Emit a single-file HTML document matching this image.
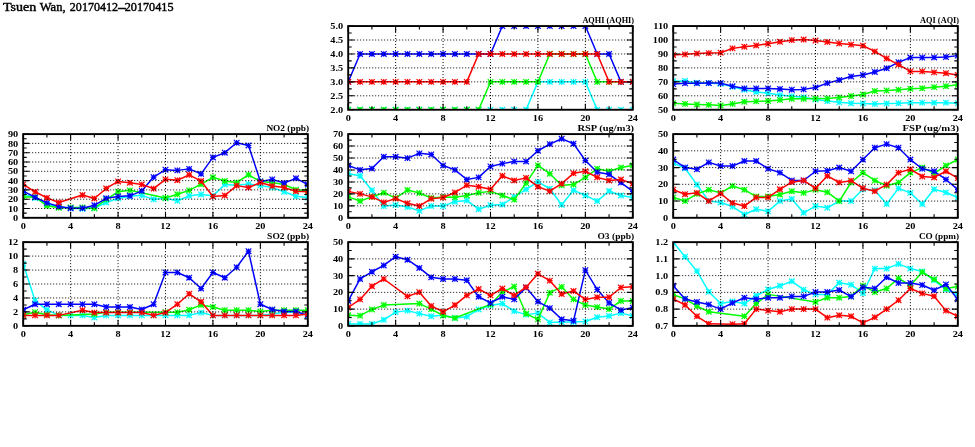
<!DOCTYPE html><html><head><meta charset="utf-8"><title>Tsuen Wan</title><style>html,body{margin:0;padding:0;background:#fff;}svg{display:block;}</style></head><body>
<svg width="975" height="447" viewBox="0 0 975 447">
<rect width="975" height="447" fill="#fff"/>
<defs><clipPath id="c0"><rect x="348.2" y="26.05" width="284.6" height="83.7"/></clipPath><clipPath id="c1"><rect x="673.2" y="26.05" width="284.6" height="83.7"/></clipPath><clipPath id="c2"><rect x="23.2" y="134.1" width="284.6" height="83.7"/></clipPath><clipPath id="c3"><rect x="348.2" y="134.1" width="284.6" height="83.7"/></clipPath><clipPath id="c4"><rect x="673.2" y="134.1" width="284.6" height="83.7"/></clipPath><clipPath id="c5"><rect x="23.2" y="242.15" width="284.6" height="83.7"/></clipPath><clipPath id="c6"><rect x="348.2" y="242.15" width="284.6" height="83.7"/></clipPath><clipPath id="c7"><rect x="673.2" y="242.15" width="284.6" height="83.7"/></clipPath></defs>
<g>
<text y="10.8" font-family="'Liberation Serif', 'DejaVu Serif', serif" font-size="11.6" fill="#000" stroke="#000" stroke-width="0.4"><tspan x="3.0" textLength="33.2" lengthAdjust="spacingAndGlyphs">Tsuen</tspan> <tspan x="39.8" textLength="25.8" lengthAdjust="spacingAndGlyphs">Wan,</tspan> <tspan x="69.85" textLength="48.25" lengthAdjust="spacingAndGlyphs">20170412</tspan><tspan x="117.2" textLength="9.4" lengthAdjust="spacingAndGlyphs">-</tspan><tspan x="124.7" textLength="48.8" lengthAdjust="spacingAndGlyphs">20170415</tspan></text>
<g clip-path="url(#c0)" fill="none" stroke-linejoin="round"><polyline points="348.2,109.75 360.06,109.75 371.92,109.75 383.77,109.75 395.63,109.75 407.49,109.75 419.35,109.75 431.21,109.75 443.07,109.75 454.93,109.75 466.78,109.75 478.64,109.75 490.5,109.75 502.36,109.75 514.22,109.75 526.08,109.75 537.93,81.85 549.79,81.85 561.65,81.85 573.51,81.85 585.37,81.85 597.23,109.75 609.08,109.75 620.94,109.75 632.8,109.75" stroke="#00ffff" stroke-width="1.5"/><path d="M345.4 106.95L351 112.55M345.4 112.55L351 106.95M348.2 106.95V112.55M345.4 109.75H351M357.26 106.95L362.86 112.55M357.26 112.55L362.86 106.95M360.06 106.95V112.55M357.26 109.75H362.86M369.12 106.95L374.72 112.55M369.12 112.55L374.72 106.95M371.92 106.95V112.55M369.12 109.75H374.72M380.97 106.95L386.57 112.55M380.97 112.55L386.57 106.95M383.77 106.95V112.55M380.97 109.75H386.57M392.83 106.95L398.43 112.55M392.83 112.55L398.43 106.95M395.63 106.95V112.55M392.83 109.75H398.43M404.69 106.95L410.29 112.55M404.69 112.55L410.29 106.95M407.49 106.95V112.55M404.69 109.75H410.29M416.55 106.95L422.15 112.55M416.55 112.55L422.15 106.95M419.35 106.95V112.55M416.55 109.75H422.15M428.41 106.95L434.01 112.55M428.41 112.55L434.01 106.95M431.21 106.95V112.55M428.41 109.75H434.01M440.27 106.95L445.87 112.55M440.27 112.55L445.87 106.95M443.07 106.95V112.55M440.27 109.75H445.87M452.12 106.95L457.73 112.55M452.12 112.55L457.73 106.95M454.93 106.95V112.55M452.12 109.75H457.73M463.98 106.95L469.58 112.55M463.98 112.55L469.58 106.95M466.78 106.95V112.55M463.98 109.75H469.58M475.84 106.95L481.44 112.55M475.84 112.55L481.44 106.95M478.64 106.95V112.55M475.84 109.75H481.44M487.7 106.95L493.3 112.55M487.7 112.55L493.3 106.95M490.5 106.95V112.55M487.7 109.75H493.3M499.56 106.95L505.16 112.55M499.56 112.55L505.16 106.95M502.36 106.95V112.55M499.56 109.75H505.16M511.42 106.95L517.02 112.55M511.42 112.55L517.02 106.95M514.22 106.95V112.55M511.42 109.75H517.02M523.28 106.95L528.88 112.55M523.28 112.55L528.88 106.95M526.08 106.95V112.55M523.28 109.75H528.88M535.13 79.05L540.73 84.65M535.13 84.65L540.73 79.05M537.93 79.05V84.65M535.13 81.85H540.73M546.99 79.05L552.59 84.65M546.99 84.65L552.59 79.05M549.79 79.05V84.65M546.99 81.85H552.59M558.85 79.05L564.45 84.65M558.85 84.65L564.45 79.05M561.65 79.05V84.65M558.85 81.85H564.45M570.71 79.05L576.31 84.65M570.71 84.65L576.31 79.05M573.51 79.05V84.65M570.71 81.85H576.31M582.57 79.05L588.17 84.65M582.57 84.65L588.17 79.05M585.37 79.05V84.65M582.57 81.85H588.17M594.43 106.95L600.02 112.55M594.43 112.55L600.02 106.95M597.23 106.95V112.55M594.43 109.75H600.02M606.28 106.95L611.88 112.55M606.28 112.55L611.88 106.95M609.08 106.95V112.55M606.28 109.75H611.88M618.14 106.95L623.74 112.55M618.14 112.55L623.74 106.95M620.94 106.95V112.55M618.14 109.75H623.74M630 106.95L635.6 112.55M630 112.55L635.6 106.95M632.8 106.95V112.55M630 109.75H635.6" stroke="#00ffff" stroke-width="1.2"/><polyline points="348.2,109.75 360.06,109.75 371.92,109.75 383.77,109.75 395.63,109.75 407.49,109.75 419.35,109.75 431.21,109.75 443.07,109.75 454.93,109.75 466.78,109.75 478.64,109.75 490.5,81.85 502.36,81.85 514.22,81.85 526.08,81.85 537.93,81.85 549.79,53.95 561.65,53.95 573.51,53.95 585.37,53.95 597.23,81.85 609.08,81.85 620.94,81.85 632.8,81.85" stroke="#00ff00" stroke-width="1.5"/><path d="M345.4 106.95L351 112.55M345.4 112.55L351 106.95M348.2 106.95V112.55M345.4 109.75H351M357.26 106.95L362.86 112.55M357.26 112.55L362.86 106.95M360.06 106.95V112.55M357.26 109.75H362.86M369.12 106.95L374.72 112.55M369.12 112.55L374.72 106.95M371.92 106.95V112.55M369.12 109.75H374.72M380.97 106.95L386.57 112.55M380.97 112.55L386.57 106.95M383.77 106.95V112.55M380.97 109.75H386.57M392.83 106.95L398.43 112.55M392.83 112.55L398.43 106.95M395.63 106.95V112.55M392.83 109.75H398.43M404.69 106.95L410.29 112.55M404.69 112.55L410.29 106.95M407.49 106.95V112.55M404.69 109.75H410.29M416.55 106.95L422.15 112.55M416.55 112.55L422.15 106.95M419.35 106.95V112.55M416.55 109.75H422.15M428.41 106.95L434.01 112.55M428.41 112.55L434.01 106.95M431.21 106.95V112.55M428.41 109.75H434.01M440.27 106.95L445.87 112.55M440.27 112.55L445.87 106.95M443.07 106.95V112.55M440.27 109.75H445.87M452.12 106.95L457.73 112.55M452.12 112.55L457.73 106.95M454.93 106.95V112.55M452.12 109.75H457.73M463.98 106.95L469.58 112.55M463.98 112.55L469.58 106.95M466.78 106.95V112.55M463.98 109.75H469.58M475.84 106.95L481.44 112.55M475.84 112.55L481.44 106.95M478.64 106.95V112.55M475.84 109.75H481.44M487.7 79.05L493.3 84.65M487.7 84.65L493.3 79.05M490.5 79.05V84.65M487.7 81.85H493.3M499.56 79.05L505.16 84.65M499.56 84.65L505.16 79.05M502.36 79.05V84.65M499.56 81.85H505.16M511.42 79.05L517.02 84.65M511.42 84.65L517.02 79.05M514.22 79.05V84.65M511.42 81.85H517.02M523.28 79.05L528.88 84.65M523.28 84.65L528.88 79.05M526.08 79.05V84.65M523.28 81.85H528.88M535.13 79.05L540.73 84.65M535.13 84.65L540.73 79.05M537.93 79.05V84.65M535.13 81.85H540.73M546.99 51.15L552.59 56.75M546.99 56.75L552.59 51.15M549.79 51.15V56.75M546.99 53.95H552.59M558.85 51.15L564.45 56.75M558.85 56.75L564.45 51.15M561.65 51.15V56.75M558.85 53.95H564.45M570.71 51.15L576.31 56.75M570.71 56.75L576.31 51.15M573.51 51.15V56.75M570.71 53.95H576.31M582.57 51.15L588.17 56.75M582.57 56.75L588.17 51.15M585.37 51.15V56.75M582.57 53.95H588.17M594.43 79.05L600.02 84.65M594.43 84.65L600.02 79.05M597.23 79.05V84.65M594.43 81.85H600.02M606.28 79.05L611.88 84.65M606.28 84.65L611.88 79.05M609.08 79.05V84.65M606.28 81.85H611.88M618.14 79.05L623.74 84.65M618.14 84.65L623.74 79.05M620.94 79.05V84.65M618.14 81.85H623.74M630 79.05L635.6 84.65M630 84.65L635.6 79.05M632.8 79.05V84.65M630 81.85H635.6" stroke="#00ff00" stroke-width="1.2"/><polyline points="348.2,81.85 360.06,53.95 371.92,53.95 383.77,53.95 395.63,53.95 407.49,53.95 419.35,53.95 431.21,53.95 443.07,53.95 454.93,53.95 466.78,53.95 478.64,53.95 490.5,53.95 502.36,26.05 514.22,26.05 526.08,26.05 537.93,26.05 549.79,26.05 561.65,26.05 573.51,26.05 585.37,26.05 597.23,53.95 609.08,53.95 620.94,81.85 632.8,81.85" stroke="#0000ff" stroke-width="1.5"/><path d="M345.4 79.05L351 84.65M345.4 84.65L351 79.05M348.2 79.05V84.65M345.4 81.85H351M357.26 51.15L362.86 56.75M357.26 56.75L362.86 51.15M360.06 51.15V56.75M357.26 53.95H362.86M369.12 51.15L374.72 56.75M369.12 56.75L374.72 51.15M371.92 51.15V56.75M369.12 53.95H374.72M380.97 51.15L386.57 56.75M380.97 56.75L386.57 51.15M383.77 51.15V56.75M380.97 53.95H386.57M392.83 51.15L398.43 56.75M392.83 56.75L398.43 51.15M395.63 51.15V56.75M392.83 53.95H398.43M404.69 51.15L410.29 56.75M404.69 56.75L410.29 51.15M407.49 51.15V56.75M404.69 53.95H410.29M416.55 51.15L422.15 56.75M416.55 56.75L422.15 51.15M419.35 51.15V56.75M416.55 53.95H422.15M428.41 51.15L434.01 56.75M428.41 56.75L434.01 51.15M431.21 51.15V56.75M428.41 53.95H434.01M440.27 51.15L445.87 56.75M440.27 56.75L445.87 51.15M443.07 51.15V56.75M440.27 53.95H445.87M452.12 51.15L457.73 56.75M452.12 56.75L457.73 51.15M454.93 51.15V56.75M452.12 53.95H457.73M463.98 51.15L469.58 56.75M463.98 56.75L469.58 51.15M466.78 51.15V56.75M463.98 53.95H469.58M475.84 51.15L481.44 56.75M475.84 56.75L481.44 51.15M478.64 51.15V56.75M475.84 53.95H481.44M487.7 51.15L493.3 56.75M487.7 56.75L493.3 51.15M490.5 51.15V56.75M487.7 53.95H493.3M499.56 23.25L505.16 28.85M499.56 28.85L505.16 23.25M502.36 23.25V28.85M499.56 26.05H505.16M511.42 23.25L517.02 28.85M511.42 28.85L517.02 23.25M514.22 23.25V28.85M511.42 26.05H517.02M523.28 23.25L528.88 28.85M523.28 28.85L528.88 23.25M526.08 23.25V28.85M523.28 26.05H528.88M535.13 23.25L540.73 28.85M535.13 28.85L540.73 23.25M537.93 23.25V28.85M535.13 26.05H540.73M546.99 23.25L552.59 28.85M546.99 28.85L552.59 23.25M549.79 23.25V28.85M546.99 26.05H552.59M558.85 23.25L564.45 28.85M558.85 28.85L564.45 23.25M561.65 23.25V28.85M558.85 26.05H564.45M570.71 23.25L576.31 28.85M570.71 28.85L576.31 23.25M573.51 23.25V28.85M570.71 26.05H576.31M582.57 23.25L588.17 28.85M582.57 28.85L588.17 23.25M585.37 23.25V28.85M582.57 26.05H588.17M594.43 51.15L600.02 56.75M594.43 56.75L600.02 51.15M597.23 51.15V56.75M594.43 53.95H600.02M606.28 51.15L611.88 56.75M606.28 56.75L611.88 51.15M609.08 51.15V56.75M606.28 53.95H611.88M618.14 79.05L623.74 84.65M618.14 84.65L623.74 79.05M620.94 79.05V84.65M618.14 81.85H623.74M630 79.05L635.6 84.65M630 84.65L635.6 79.05M632.8 79.05V84.65M630 81.85H635.6" stroke="#0000ff" stroke-width="1.2"/><polyline points="348.2,81.85 360.06,81.85 371.92,81.85 383.77,81.85 395.63,81.85 407.49,81.85 419.35,81.85 431.21,81.85 443.07,81.85 454.93,81.85 466.78,81.85 478.64,53.95 490.5,53.95 502.36,53.95 514.22,53.95 526.08,53.95 537.93,53.95 549.79,53.95 561.65,53.95 573.51,53.95 585.37,53.95 597.23,53.95 609.08,81.85 620.94,81.85 632.8,81.85" stroke="#ff0000" stroke-width="1.5"/><path d="M345.4 79.05L351 84.65M345.4 84.65L351 79.05M348.2 79.05V84.65M345.4 81.85H351M357.26 79.05L362.86 84.65M357.26 84.65L362.86 79.05M360.06 79.05V84.65M357.26 81.85H362.86M369.12 79.05L374.72 84.65M369.12 84.65L374.72 79.05M371.92 79.05V84.65M369.12 81.85H374.72M380.97 79.05L386.57 84.65M380.97 84.65L386.57 79.05M383.77 79.05V84.65M380.97 81.85H386.57M392.83 79.05L398.43 84.65M392.83 84.65L398.43 79.05M395.63 79.05V84.65M392.83 81.85H398.43M404.69 79.05L410.29 84.65M404.69 84.65L410.29 79.05M407.49 79.05V84.65M404.69 81.85H410.29M416.55 79.05L422.15 84.65M416.55 84.65L422.15 79.05M419.35 79.05V84.65M416.55 81.85H422.15M428.41 79.05L434.01 84.65M428.41 84.65L434.01 79.05M431.21 79.05V84.65M428.41 81.85H434.01M440.27 79.05L445.87 84.65M440.27 84.65L445.87 79.05M443.07 79.05V84.65M440.27 81.85H445.87M452.12 79.05L457.73 84.65M452.12 84.65L457.73 79.05M454.93 79.05V84.65M452.12 81.85H457.73M463.98 79.05L469.58 84.65M463.98 84.65L469.58 79.05M466.78 79.05V84.65M463.98 81.85H469.58M475.84 51.15L481.44 56.75M475.84 56.75L481.44 51.15M478.64 51.15V56.75M475.84 53.95H481.44M487.7 51.15L493.3 56.75M487.7 56.75L493.3 51.15M490.5 51.15V56.75M487.7 53.95H493.3M499.56 51.15L505.16 56.75M499.56 56.75L505.16 51.15M502.36 51.15V56.75M499.56 53.95H505.16M511.42 51.15L517.02 56.75M511.42 56.75L517.02 51.15M514.22 51.15V56.75M511.42 53.95H517.02M523.28 51.15L528.88 56.75M523.28 56.75L528.88 51.15M526.08 51.15V56.75M523.28 53.95H528.88M535.13 51.15L540.73 56.75M535.13 56.75L540.73 51.15M537.93 51.15V56.75M535.13 53.95H540.73M546.99 51.15L552.59 56.75M546.99 56.75L552.59 51.15M549.79 51.15V56.75M546.99 53.95H552.59M558.85 51.15L564.45 56.75M558.85 56.75L564.45 51.15M561.65 51.15V56.75M558.85 53.95H564.45M570.71 51.15L576.31 56.75M570.71 56.75L576.31 51.15M573.51 51.15V56.75M570.71 53.95H576.31M582.57 51.15L588.17 56.75M582.57 56.75L588.17 51.15M585.37 51.15V56.75M582.57 53.95H588.17M594.43 51.15L600.02 56.75M594.43 56.75L600.02 51.15M597.23 51.15V56.75M594.43 53.95H600.02M606.28 79.05L611.88 84.65M606.28 84.65L611.88 79.05M609.08 79.05V84.65M606.28 81.85H611.88M618.14 79.05L623.74 84.65M618.14 84.65L623.74 79.05M620.94 79.05V84.65M618.14 81.85H623.74M630 79.05L635.6 84.65M630 84.65L635.6 79.05M632.8 79.05V84.65M630 81.85H635.6" stroke="#ff0000" stroke-width="1.2"/></g><path d="M348.2 95.8H632.8M348.2 81.85H632.8M348.2 67.9H632.8M348.2 53.95H632.8M348.2 40H632.8M395.63 26.05V109.75M443.07 26.05V109.75M490.5 26.05V109.75M537.93 26.05V109.75M585.37 26.05V109.75" stroke="#000" stroke-width="1" stroke-dasharray="1 2" fill="none"/><path d="M348.2 109.75h6M632.8 109.75h-6M348.2 102.78h3.5M632.8 102.78h-3.5M348.2 95.8h6M632.8 95.8h-6M348.2 88.83h3.5M632.8 88.83h-3.5M348.2 81.85h6M632.8 81.85h-6M348.2 74.88h3.5M632.8 74.88h-3.5M348.2 67.9h6M632.8 67.9h-6M348.2 60.92h3.5M632.8 60.92h-3.5M348.2 53.95h6M632.8 53.95h-6M348.2 46.97h3.5M632.8 46.97h-3.5M348.2 40h6M632.8 40h-6M348.2 33.03h3.5M632.8 33.03h-3.5M348.2 26.05h6M632.8 26.05h-6M348.2 109.75v-6M348.2 26.05v6M371.92 109.75v-3.5M371.92 26.05v3.5M395.63 109.75v-6M395.63 26.05v6M419.35 109.75v-3.5M419.35 26.05v3.5M443.07 109.75v-6M443.07 26.05v6M466.78 109.75v-3.5M466.78 26.05v3.5M490.5 109.75v-6M490.5 26.05v6M514.22 109.75v-3.5M514.22 26.05v3.5M537.93 109.75v-6M537.93 26.05v6M561.65 109.75v-3.5M561.65 26.05v3.5M585.37 109.75v-6M585.37 26.05v6M609.08 109.75v-3.5M609.08 26.05v3.5M632.8 109.75v-6M632.8 26.05v6" stroke="#000" stroke-width="1.1" fill="none"/><rect x="348.2" y="26.05" width="284.6" height="83.7" fill="none" stroke="#000" stroke-width="1.9"/><g font-family="'Liberation Serif', 'DejaVu Serif', serif" font-weight="bold" font-size="9.2" fill="#000"><text transform="translate(343.2,112.85) scale(1.12,1)" text-anchor="end">2.0</text><text transform="translate(343.2,98.9) scale(1.12,1)" text-anchor="end">2.5</text><text transform="translate(343.2,84.95) scale(1.12,1)" text-anchor="end">3.0</text><text transform="translate(343.2,71) scale(1.12,1)" text-anchor="end">3.5</text><text transform="translate(343.2,57.05) scale(1.12,1)" text-anchor="end">4.0</text><text transform="translate(343.2,43.1) scale(1.12,1)" text-anchor="end">4.5</text><text transform="translate(343.2,29.15) scale(1.12,1)" text-anchor="end">5.0</text><text transform="translate(348.2,120.95) scale(1.12,1)" text-anchor="middle">0</text><text transform="translate(395.63,120.95) scale(1.12,1)" text-anchor="middle">4</text><text transform="translate(443.07,120.95) scale(1.12,1)" text-anchor="middle">8</text><text transform="translate(490.5,120.95) scale(1.12,1)" text-anchor="middle">12</text><text transform="translate(537.93,120.95) scale(1.12,1)" text-anchor="middle">16</text><text transform="translate(585.37,120.95) scale(1.12,1)" text-anchor="middle">20</text><text transform="translate(632.8,120.95) scale(1.12,1)" text-anchor="middle">24</text></g><text x="634.1" y="22.95" text-anchor="end" font-family="'Liberation Serif', 'DejaVu Serif', serif" font-weight="bold" font-size="9.2" textLength="51.7" lengthAdjust="spacingAndGlyphs" fill="#000">AQHI (AQHI)</text>
<g clip-path="url(#c1)" fill="none" stroke-linejoin="round"><polyline points="673.2,81.15 685.06,81.01 696.92,82.69 708.78,82.97 720.63,83.66 732.49,86.73 744.35,89.8 756.21,91.89 768.07,93.29 779.93,95.1 791.78,96.22 803.64,97.19 815.5,99.43 827.36,101.1 839.22,102.36 851.08,103.33 862.93,103.47 874.79,103.89 886.65,103.47 898.51,103.19 910.37,102.64 922.23,102.64 934.08,102.78 945.94,102.64 957.8,103.19" stroke="#00ffff" stroke-width="1.5"/><path d="M670.4 78.35L676 83.95M670.4 83.95L676 78.35M673.2 78.35V83.95M670.4 81.15H676M682.26 78.21L687.86 83.81M682.26 83.81L687.86 78.21M685.06 78.21V83.81M682.26 81.01H687.86M694.12 79.89L699.72 85.49M694.12 85.49L699.72 79.89M696.92 79.89V85.49M694.12 82.69H699.72M705.98 80.17L711.58 85.77M705.98 85.77L711.58 80.17M708.78 80.17V85.77M705.98 82.97H711.58M717.83 80.86L723.43 86.46M717.83 86.46L723.43 80.86M720.63 80.86V86.46M717.83 83.66H723.43M729.69 83.93L735.29 89.53M729.69 89.53L735.29 83.93M732.49 83.93V89.53M729.69 86.73H735.29M741.55 87L747.15 92.6M741.55 92.6L747.15 87M744.35 87V92.6M741.55 89.8H747.15M753.41 89.09L759.01 94.69M753.41 94.69L759.01 89.09M756.21 89.09V94.69M753.41 91.89H759.01M765.27 90.49L770.87 96.09M765.27 96.09L770.87 90.49M768.07 90.49V96.09M765.27 93.29H770.87M777.13 92.3L782.73 97.9M777.13 97.9L782.73 92.3M779.93 92.3V97.9M777.13 95.1H782.73M788.98 93.42L794.58 99.02M788.98 99.02L794.58 93.42M791.78 93.42V99.02M788.98 96.22H794.58M800.84 94.39L806.44 99.99M800.84 99.99L806.44 94.39M803.64 94.39V99.99M800.84 97.19H806.44M812.7 96.63L818.3 102.23M812.7 102.23L818.3 96.63M815.5 96.63V102.23M812.7 99.43H818.3M824.56 98.3L830.16 103.9M824.56 103.9L830.16 98.3M827.36 98.3V103.9M824.56 101.1H830.16M836.42 99.56L842.02 105.16M836.42 105.16L842.02 99.56M839.22 99.56V105.16M836.42 102.36H842.02M848.28 100.53L853.88 106.13M848.28 106.13L853.88 100.53M851.08 100.53V106.13M848.28 103.33H853.88M860.13 100.67L865.73 106.27M860.13 106.27L865.73 100.67M862.93 100.67V106.27M860.13 103.47H865.73M871.99 101.09L877.59 106.69M871.99 106.69L877.59 101.09M874.79 101.09V106.69M871.99 103.89H877.59M883.85 100.67L889.45 106.27M883.85 106.27L889.45 100.67M886.65 100.67V106.27M883.85 103.47H889.45M895.71 100.39L901.31 105.99M895.71 105.99L901.31 100.39M898.51 100.39V105.99M895.71 103.19H901.31M907.57 99.84L913.17 105.44M907.57 105.44L913.17 99.84M910.37 99.84V105.44M907.57 102.64H913.17M919.43 99.84L925.02 105.44M919.43 105.44L925.02 99.84M922.23 99.84V105.44M919.43 102.64H925.02M931.28 99.98L936.88 105.58M931.28 105.58L936.88 99.98M934.08 99.98V105.58M931.28 102.78H936.88M943.14 99.84L948.74 105.44M943.14 105.44L948.74 99.84M945.94 99.84V105.44M943.14 102.64H948.74M955 100.39L960.6 105.99M955 105.99L960.6 100.39M957.8 100.39V105.99M955 103.19H960.6" stroke="#00ffff" stroke-width="1.2"/><polyline points="673.2,103.19 685.06,103.89 696.92,104.45 708.78,104.87 720.63,105.56 732.49,103.89 744.35,101.8 756.21,101.38 768.07,100.96 779.93,99.98 791.78,98.87 803.64,98.87 815.5,98.59 827.36,98.59 839.22,97.47 851.08,96.08 862.93,94.54 874.79,91.06 886.65,90.5 898.51,89.8 910.37,88.83 922.23,88.27 934.08,87.15 945.94,86.17 957.8,84.78" stroke="#00ff00" stroke-width="1.5"/><path d="M670.4 100.39L676 105.99M670.4 105.99L676 100.39M673.2 100.39V105.99M670.4 103.19H676M682.26 101.09L687.86 106.69M682.26 106.69L687.86 101.09M685.06 101.09V106.69M682.26 103.89H687.86M694.12 101.65L699.72 107.25M694.12 107.25L699.72 101.65M696.92 101.65V107.25M694.12 104.45H699.72M705.98 102.07L711.58 107.67M705.98 107.67L711.58 102.07M708.78 102.07V107.67M705.98 104.87H711.58M717.83 102.77L723.43 108.36M717.83 108.36L723.43 102.77M720.63 102.77V108.36M717.83 105.56H723.43M729.69 101.09L735.29 106.69M729.69 106.69L735.29 101.09M732.49 101.09V106.69M729.69 103.89H735.29M741.55 99L747.15 104.6M741.55 104.6L747.15 99M744.35 99V104.6M741.55 101.8H747.15M753.41 98.58L759.01 104.18M753.41 104.18L759.01 98.58M756.21 98.58V104.18M753.41 101.38H759.01M765.27 98.16L770.87 103.76M765.27 103.76L770.87 98.16M768.07 98.16V103.76M765.27 100.96H770.87M777.13 97.19L782.73 102.78M777.13 102.78L782.73 97.19M779.93 97.19V102.78M777.13 99.98H782.73M788.98 96.07L794.58 101.67M788.98 101.67L794.58 96.07M791.78 96.07V101.67M788.98 98.87H794.58M800.84 96.07L806.44 101.67M800.84 101.67L806.44 96.07M803.64 96.07V101.67M800.84 98.87H806.44M812.7 95.79L818.3 101.39M812.7 101.39L818.3 95.79M815.5 95.79V101.39M812.7 98.59H818.3M824.56 95.79L830.16 101.39M824.56 101.39L830.16 95.79M827.36 95.79V101.39M824.56 98.59H830.16M836.42 94.67L842.02 100.27M836.42 100.27L842.02 94.67M839.22 94.67V100.27M836.42 97.47H842.02M848.28 93.28L853.88 98.88M848.28 98.88L853.88 93.28M851.08 93.28V98.88M848.28 96.08H853.88M860.13 91.74L865.73 97.34M860.13 97.34L865.73 91.74M862.93 91.74V97.34M860.13 94.54H865.73M871.99 88.26L877.59 93.86M871.99 93.86L877.59 88.26M874.79 88.26V93.86M871.99 91.06H877.59M883.85 87.7L889.45 93.3M883.85 93.3L889.45 87.7M886.65 87.7V93.3M883.85 90.5H889.45M895.71 87L901.31 92.6M895.71 92.6L901.31 87M898.51 87V92.6M895.71 89.8H901.31M907.57 86.03L913.17 91.62M907.57 91.62L913.17 86.03M910.37 86.03V91.62M907.57 88.83H913.17M919.43 85.47L925.02 91.07M919.43 91.07L925.02 85.47M922.23 85.47V91.07M919.43 88.27H925.02M931.28 84.35L936.88 89.95M931.28 89.95L936.88 84.35M934.08 84.35V89.95M931.28 87.15H936.88M943.14 83.37L948.74 88.97M943.14 88.97L948.74 83.37M945.94 83.37V88.97M943.14 86.17H948.74M955 81.98L960.6 87.58M955 87.58L960.6 81.98M957.8 81.98V87.58M955 84.78H960.6" stroke="#00ff00" stroke-width="1.2"/><polyline points="673.2,84.08 685.06,83.25 696.92,83.25 708.78,83.11 720.63,83.11 732.49,86.31 744.35,88.41 756.21,88.41 768.07,88.41 779.93,88.96 791.78,89.66 803.64,89.38 815.5,87.43 827.36,83.11 839.22,80.04 851.08,76.55 862.93,75.01 874.79,71.95 886.65,68.32 898.51,62.18 910.37,57.58 922.23,57.58 934.08,57.44 945.94,57.02 957.8,55.62" stroke="#0000ff" stroke-width="1.5"/><path d="M670.4 81.28L676 86.88M670.4 86.88L676 81.28M673.2 81.28V86.88M670.4 84.08H676M682.26 80.45L687.86 86.05M682.26 86.05L687.86 80.45M685.06 80.45V86.05M682.26 83.25H687.86M694.12 80.45L699.72 86.05M694.12 86.05L699.72 80.45M696.92 80.45V86.05M694.12 83.25H699.72M705.98 80.31L711.58 85.91M705.98 85.91L711.58 80.31M708.78 80.31V85.91M705.98 83.11H711.58M717.83 80.31L723.43 85.91M717.83 85.91L723.43 80.31M720.63 80.31V85.91M717.83 83.11H723.43M729.69 83.51L735.29 89.11M729.69 89.11L735.29 83.51M732.49 83.51V89.11M729.69 86.31H735.29M741.55 85.61L747.15 91.21M741.55 91.21L747.15 85.61M744.35 85.61V91.21M741.55 88.41H747.15M753.41 85.61L759.01 91.21M753.41 91.21L759.01 85.61M756.21 85.61V91.21M753.41 88.41H759.01M765.27 85.61L770.87 91.21M765.27 91.21L770.87 85.61M768.07 85.61V91.21M765.27 88.41H770.87M777.13 86.16L782.73 91.76M777.13 91.76L782.73 86.16M779.93 86.16V91.76M777.13 88.96H782.73M788.98 86.86L794.58 92.46M788.98 92.46L794.58 86.86M791.78 86.86V92.46M788.98 89.66H794.58M800.84 86.58L806.44 92.18M800.84 92.18L806.44 86.58M803.64 86.58V92.18M800.84 89.38H806.44M812.7 84.63L818.3 90.23M812.7 90.23L818.3 84.63M815.5 84.63V90.23M812.7 87.43H818.3M824.56 80.31L830.16 85.91M824.56 85.91L830.16 80.31M827.36 80.31V85.91M824.56 83.11H830.16M836.42 77.24L842.02 82.84M836.42 82.84L842.02 77.24M839.22 77.24V82.84M836.42 80.04H842.02M848.28 73.75L853.88 79.35M848.28 79.35L853.88 73.75M851.08 73.75V79.35M848.28 76.55H853.88M860.13 72.21L865.73 77.81M860.13 77.81L865.73 72.21M862.93 72.21V77.81M860.13 75.01H865.73M871.99 69.15L877.59 74.75M871.99 74.75L877.59 69.15M874.79 69.15V74.75M871.99 71.95H877.59M883.85 65.52L889.45 71.12M883.85 71.12L889.45 65.52M886.65 65.52V71.12M883.85 68.32H889.45M895.71 59.38L901.31 64.98M895.71 64.98L901.31 59.38M898.51 59.38V64.98M895.71 62.18H901.31M907.57 54.78L913.17 60.38M907.57 60.38L913.17 54.78M910.37 54.78V60.38M907.57 57.58H913.17M919.43 54.78L925.02 60.38M919.43 60.38L925.02 54.78M922.23 54.78V60.38M919.43 57.58H925.02M931.28 54.64L936.88 60.24M931.28 60.24L936.88 54.64M934.08 54.64V60.24M931.28 57.44H936.88M943.14 54.22L948.74 59.82M943.14 59.82L948.74 54.22M945.94 54.22V59.82M943.14 57.02H948.74M955 52.82L960.6 58.42M955 58.42L960.6 52.82M957.8 52.82V58.42M955 55.62H960.6" stroke="#0000ff" stroke-width="1.2"/><polyline points="673.2,54.93 685.06,54.37 696.92,53.53 708.78,53.11 720.63,52.69 732.49,48.37 744.35,46.7 756.21,45.44 768.07,43.77 779.93,41.81 791.78,40.14 803.64,39.58 815.5,40.56 827.36,41.95 839.22,43.49 851.08,44.6 862.93,45.72 874.79,51.44 886.65,58.41 898.51,64.55 910.37,71.39 922.23,71.39 934.08,72.36 945.94,73.2 957.8,75.01" stroke="#ff0000" stroke-width="1.5"/><path d="M670.4 52.13L676 57.73M670.4 57.73L676 52.13M673.2 52.13V57.73M670.4 54.93H676M682.26 51.57L687.86 57.17M682.26 57.17L687.86 51.57M685.06 51.57V57.17M682.26 54.37H687.86M694.12 50.73L699.72 56.33M694.12 56.33L699.72 50.73M696.92 50.73V56.33M694.12 53.53H699.72M705.98 50.31L711.58 55.91M705.98 55.91L711.58 50.31M708.78 50.31V55.91M705.98 53.11H711.58M717.83 49.89L723.43 55.49M717.83 55.49L723.43 49.89M720.63 49.89V55.49M717.83 52.69H723.43M729.69 45.57L735.29 51.17M729.69 51.17L735.29 45.57M732.49 45.57V51.17M729.69 48.37H735.29M741.55 43.9L747.15 49.5M741.55 49.5L747.15 43.9M744.35 43.9V49.5M741.55 46.7H747.15M753.41 42.64L759.01 48.24M753.41 48.24L759.01 42.64M756.21 42.64V48.24M753.41 45.44H759.01M765.27 40.97L770.87 46.57M765.27 46.57L770.87 40.97M768.07 40.97V46.57M765.27 43.77H770.87M777.13 39.01L782.73 44.61M777.13 44.61L782.73 39.01M779.93 39.01V44.61M777.13 41.81H782.73M788.98 37.34L794.58 42.94M788.98 42.94L794.58 37.34M791.78 37.34V42.94M788.98 40.14H794.58M800.84 36.78L806.44 42.38M800.84 42.38L806.44 36.78M803.64 36.78V42.38M800.84 39.58H806.44M812.7 37.76L818.3 43.36M812.7 43.36L818.3 37.76M815.5 37.76V43.36M812.7 40.56H818.3M824.56 39.15L830.16 44.75M824.56 44.75L830.16 39.15M827.36 39.15V44.75M824.56 41.95H830.16M836.42 40.69L842.02 46.29M836.42 46.29L842.02 40.69M839.22 40.69V46.29M836.42 43.49H842.02M848.28 41.8L853.88 47.4M848.28 47.4L853.88 41.8M851.08 41.8V47.4M848.28 44.6H853.88M860.13 42.92L865.73 48.52M860.13 48.52L865.73 42.92M862.93 42.92V48.52M860.13 45.72H865.73M871.99 48.64L877.59 54.24M871.99 54.24L877.59 48.64M874.79 48.64V54.24M871.99 51.44H877.59M883.85 55.61L889.45 61.21M883.85 61.21L889.45 55.61M886.65 55.61V61.21M883.85 58.41H889.45M895.71 61.75L901.31 67.35M895.71 67.35L901.31 61.75M898.51 61.75V67.35M895.71 64.55H901.31M907.57 68.59L913.17 74.19M907.57 74.19L913.17 68.59M910.37 68.59V74.19M907.57 71.39H913.17M919.43 68.59L925.02 74.19M919.43 74.19L925.02 68.59M922.23 68.59V74.19M919.43 71.39H925.02M931.28 69.56L936.88 75.16M931.28 75.16L936.88 69.56M934.08 69.56V75.16M931.28 72.36H936.88M943.14 70.4L948.74 76M943.14 76L948.74 70.4M945.94 70.4V76M943.14 73.2H948.74M955 72.21L960.6 77.81M955 77.81L960.6 72.21M957.8 72.21V77.81M955 75.01H960.6" stroke="#ff0000" stroke-width="1.2"/></g><path d="M673.2 95.8H957.8M673.2 81.85H957.8M673.2 67.9H957.8M673.2 53.95H957.8M673.2 40H957.8M720.63 26.05V109.75M768.07 26.05V109.75M815.5 26.05V109.75M862.93 26.05V109.75M910.37 26.05V109.75" stroke="#000" stroke-width="1" stroke-dasharray="1 2" fill="none"/><path d="M673.2 109.75h6M957.8 109.75h-6M673.2 102.78h3.5M957.8 102.78h-3.5M673.2 95.8h6M957.8 95.8h-6M673.2 88.83h3.5M957.8 88.83h-3.5M673.2 81.85h6M957.8 81.85h-6M673.2 74.88h3.5M957.8 74.88h-3.5M673.2 67.9h6M957.8 67.9h-6M673.2 60.92h3.5M957.8 60.92h-3.5M673.2 53.95h6M957.8 53.95h-6M673.2 46.97h3.5M957.8 46.97h-3.5M673.2 40h6M957.8 40h-6M673.2 33.03h3.5M957.8 33.03h-3.5M673.2 26.05h6M957.8 26.05h-6M673.2 109.75v-6M673.2 26.05v6M696.92 109.75v-3.5M696.92 26.05v3.5M720.63 109.75v-6M720.63 26.05v6M744.35 109.75v-3.5M744.35 26.05v3.5M768.07 109.75v-6M768.07 26.05v6M791.78 109.75v-3.5M791.78 26.05v3.5M815.5 109.75v-6M815.5 26.05v6M839.22 109.75v-3.5M839.22 26.05v3.5M862.93 109.75v-6M862.93 26.05v6M886.65 109.75v-3.5M886.65 26.05v3.5M910.37 109.75v-6M910.37 26.05v6M934.08 109.75v-3.5M934.08 26.05v3.5M957.8 109.75v-6M957.8 26.05v6" stroke="#000" stroke-width="1.1" fill="none"/><rect x="673.2" y="26.05" width="284.6" height="83.7" fill="none" stroke="#000" stroke-width="1.9"/><g font-family="'Liberation Serif', 'DejaVu Serif', serif" font-weight="bold" font-size="9.2" fill="#000"><text transform="translate(668.2,112.85) scale(1.12,1)" text-anchor="end">50</text><text transform="translate(668.2,98.9) scale(1.12,1)" text-anchor="end">60</text><text transform="translate(668.2,84.95) scale(1.12,1)" text-anchor="end">70</text><text transform="translate(668.2,71) scale(1.12,1)" text-anchor="end">80</text><text transform="translate(668.2,57.05) scale(1.12,1)" text-anchor="end">90</text><text transform="translate(668.2,43.1) scale(1.12,1)" text-anchor="end">100</text><text transform="translate(668.2,29.15) scale(1.12,1)" text-anchor="end">110</text><text transform="translate(673.2,120.95) scale(1.12,1)" text-anchor="middle">0</text><text transform="translate(720.63,120.95) scale(1.12,1)" text-anchor="middle">4</text><text transform="translate(768.07,120.95) scale(1.12,1)" text-anchor="middle">8</text><text transform="translate(815.5,120.95) scale(1.12,1)" text-anchor="middle">12</text><text transform="translate(862.93,120.95) scale(1.12,1)" text-anchor="middle">16</text><text transform="translate(910.37,120.95) scale(1.12,1)" text-anchor="middle">20</text><text transform="translate(957.8,120.95) scale(1.12,1)" text-anchor="middle">24</text></g><text x="959.1" y="22.95" text-anchor="end" font-family="'Liberation Serif', 'DejaVu Serif', serif" font-weight="bold" font-size="9.2" textLength="39" lengthAdjust="spacingAndGlyphs" fill="#000">AQI (AQI)</text>
<g clip-path="url(#c2)" fill="none" stroke-linejoin="round"><polyline points="23.2,193.85 35.06,197.92 46.92,204.08 58.78,206.92 70.63,208.24 82.49,208.81 94.35,208.24 106.21,202.47 118.07,198.4 129.93,196.32 141.78,195.37 153.64,199.34 165.5,198.3 177.36,200.76 189.22,195.84 201.07,194.42 212.93,195.84 224.79,184.48 236.65,185.15 248.51,183.92 260.37,185.62 272.23,187.61 284.08,191.77 295.94,196.32 307.8,197.55" stroke="#00ffff" stroke-width="1.5"/><path d="M20.4 191.05L26 196.65M20.4 196.65L26 191.05M23.2 191.05V196.65M20.4 193.85H26M32.26 195.12L37.86 200.72M32.26 200.72L37.86 195.12M35.06 195.12V200.72M32.26 197.92H37.86M44.12 201.28L49.72 206.88M44.12 206.88L49.72 201.28M46.92 201.28V206.88M44.12 204.08H49.72M55.98 204.12L61.58 209.72M55.98 209.72L61.58 204.12M58.78 204.12V209.72M55.98 206.92H61.58M67.83 205.44L73.43 211.04M67.83 211.04L73.43 205.44M70.63 205.44V211.04M67.83 208.24H73.43M79.69 206.01L85.29 211.61M79.69 211.61L85.29 206.01M82.49 206.01V211.61M79.69 208.81H85.29M91.55 205.44L97.15 211.04M91.55 211.04L97.15 205.44M94.35 205.44V211.04M91.55 208.24H97.15M103.41 199.67L109.01 205.27M103.41 205.27L109.01 199.67M106.21 199.67V205.27M103.41 202.47H109.01M115.27 195.6L120.87 201.2M115.27 201.2L120.87 195.6M118.07 195.6V201.2M115.27 198.4H120.87M127.13 193.52L132.73 199.12M127.13 199.12L132.73 193.52M129.93 193.52V199.12M127.13 196.32H132.73M138.98 192.57L144.58 198.17M138.98 198.17L144.58 192.57M141.78 192.57V198.17M138.98 195.37H144.58M150.84 196.54L156.44 202.14M150.84 202.14L156.44 196.54M153.64 196.54V202.14M150.84 199.34H156.44M162.7 195.5L168.3 201.1M162.7 201.1L168.3 195.5M165.5 195.5V201.1M162.7 198.3H168.3M174.56 197.96L180.16 203.56M174.56 203.56L180.16 197.96M177.36 197.96V203.56M174.56 200.76H180.16M186.42 193.04L192.02 198.64M186.42 198.64L192.02 193.04M189.22 193.04V198.64M186.42 195.84H192.02M198.27 191.62L203.88 197.22M198.27 197.22L203.88 191.62M201.07 191.62V197.22M198.27 194.42H203.88M210.13 193.04L215.73 198.64M210.13 198.64L215.73 193.04M212.93 193.04V198.64M210.13 195.84H215.73M221.99 181.68L227.59 187.28M221.99 187.28L227.59 181.68M224.79 181.68V187.28M221.99 184.48H227.59M233.85 182.35L239.45 187.95M233.85 187.95L239.45 182.35M236.65 182.35V187.95M233.85 185.15H239.45M245.71 181.12L251.31 186.72M245.71 186.72L251.31 181.12M248.51 181.12V186.72M245.71 183.92H251.31M257.57 182.82L263.17 188.42M257.57 188.42L263.17 182.82M260.37 182.82V188.42M257.57 185.62H263.17M269.43 184.81L275.03 190.41M269.43 190.41L275.03 184.81M272.23 184.81V190.41M269.43 187.61H275.03M281.28 188.97L286.88 194.57M281.28 194.57L286.88 188.97M284.08 188.97V194.57M281.28 191.77H286.88M293.14 193.52L298.74 199.12M293.14 199.12L298.74 193.52M295.94 193.52V199.12M293.14 196.32H298.74M305 194.75L310.6 200.35M305 200.35L310.6 194.75M307.8 194.75V200.35M305 197.55H310.6" stroke="#00ffff" stroke-width="1.2"/><polyline points="23.2,197.07 35.06,196.98 46.92,205.78 58.78,207.77 70.63,207.39 82.49,207.39 94.35,208.24 106.21,199.34 118.07,191.77 129.93,190.35 165.5,197.92 177.36,194.33 189.22,190.35 201.07,184.2 212.93,177.29 224.79,181.08 236.65,182.5 248.51,174.83 260.37,181.46 272.23,182.5 284.08,184.48 295.94,189.69 307.8,190.73" stroke="#00ff00" stroke-width="1.5"/><path d="M20.4 194.27L26 199.87M20.4 199.87L26 194.27M23.2 194.27V199.87M20.4 197.07H26M32.26 194.18L37.86 199.78M32.26 199.78L37.86 194.18M35.06 194.18V199.78M32.26 196.98H37.86M44.12 202.98L49.72 208.58M44.12 208.58L49.72 202.98M46.92 202.98V208.58M44.12 205.78H49.72M55.98 204.97L61.58 210.57M55.98 210.57L61.58 204.97M58.78 204.97V210.57M55.98 207.77H61.58M67.83 204.59L73.43 210.19M67.83 210.19L73.43 204.59M70.63 204.59V210.19M67.83 207.39H73.43M79.69 204.59L85.29 210.19M79.69 210.19L85.29 204.59M82.49 204.59V210.19M79.69 207.39H85.29M91.55 205.44L97.15 211.04M91.55 211.04L97.15 205.44M94.35 205.44V211.04M91.55 208.24H97.15M103.41 196.54L109.01 202.14M103.41 202.14L109.01 196.54M106.21 196.54V202.14M103.41 199.34H109.01M115.27 188.97L120.87 194.57M115.27 194.57L120.87 188.97M118.07 188.97V194.57M115.27 191.77H120.87M127.13 187.55L132.73 193.15M127.13 193.15L132.73 187.55M129.93 187.55V193.15M127.13 190.35H132.73M162.7 195.12L168.3 200.72M162.7 200.72L168.3 195.12M165.5 195.12V200.72M162.7 197.92H168.3M174.56 191.53L180.16 197.13M174.56 197.13L180.16 191.53M177.36 191.53V197.13M174.56 194.33H180.16M186.42 187.55L192.02 193.15M186.42 193.15L192.02 187.55M189.22 187.55V193.15M186.42 190.35H192.02M198.27 181.4L203.88 187M198.27 187L203.88 181.4M201.07 181.4V187M198.27 184.2H203.88M210.13 174.49L215.73 180.09M210.13 180.09L215.73 174.49M212.93 174.49V180.09M210.13 177.29H215.73M221.99 178.28L227.59 183.88M221.99 183.88L227.59 178.28M224.79 178.28V183.88M221.99 181.08H227.59M233.85 179.7L239.45 185.3M233.85 185.3L239.45 179.7M236.65 179.7V185.3M233.85 182.5H239.45M245.71 172.03L251.31 177.63M245.71 177.63L251.31 172.03M248.51 172.03V177.63M245.71 174.83H251.31M257.57 178.66L263.17 184.26M257.57 184.26L263.17 178.66M260.37 178.66V184.26M257.57 181.46H263.17M269.43 179.7L275.03 185.3M269.43 185.3L275.03 179.7M272.23 179.7V185.3M269.43 182.5H275.03M281.28 181.68L286.88 187.28M281.28 187.28L286.88 181.68M284.08 181.68V187.28M281.28 184.48H286.88M293.14 186.89L298.74 192.49M293.14 192.49L298.74 186.89M295.94 186.89V192.49M293.14 189.69H298.74M305 187.93L310.6 193.53M305 193.53L310.6 187.93M307.8 187.93V193.53M305 190.73H310.6" stroke="#00ff00" stroke-width="1.2"/><polyline points="23.2,191.11 35.06,197.26 46.92,202.85 58.78,206.54 70.63,208.24 82.49,208.24 94.35,205.31 106.21,198.3 118.07,196.5 129.93,195.84 141.78,190.92 153.64,177.1 165.5,169.72 177.36,170.38 189.22,168.87 201.07,173.88 212.93,157.42 224.79,152.68 236.65,142.75 248.51,145.49 260.37,181.46 272.23,179.37 284.08,183.06 295.94,178.33 307.8,184.48" stroke="#0000ff" stroke-width="1.5"/><path d="M20.4 188.31L26 193.91M20.4 193.91L26 188.31M23.2 188.31V193.91M20.4 191.11H26M32.26 194.46L37.86 200.06M32.26 200.06L37.86 194.46M35.06 194.46V200.06M32.26 197.26H37.86M44.12 200.05L49.72 205.65M44.12 205.65L49.72 200.05M46.92 200.05V205.65M44.12 202.85H49.72M55.98 203.74L61.58 209.34M55.98 209.34L61.58 203.74M58.78 203.74V209.34M55.98 206.54H61.58M67.83 205.44L73.43 211.04M67.83 211.04L73.43 205.44M70.63 205.44V211.04M67.83 208.24H73.43M79.69 205.44L85.29 211.04M79.69 211.04L85.29 205.44M82.49 205.44V211.04M79.69 208.24H85.29M91.55 202.51L97.15 208.11M91.55 208.11L97.15 202.51M94.35 202.51V208.11M91.55 205.31H97.15M103.41 195.5L109.01 201.1M103.41 201.1L109.01 195.5M106.21 195.5V201.1M103.41 198.3H109.01M115.27 193.7L120.87 199.3M115.27 199.3L120.87 193.7M118.07 193.7V199.3M115.27 196.5H120.87M127.13 193.04L132.73 198.64M127.13 198.64L132.73 193.04M129.93 193.04V198.64M127.13 195.84H132.73M138.98 188.12L144.58 193.72M138.98 193.72L144.58 188.12M141.78 188.12V193.72M138.98 190.92H144.58M150.84 174.3L156.44 179.9M150.84 179.9L156.44 174.3M153.64 174.3V179.9M150.84 177.1H156.44M162.7 166.92L168.3 172.52M162.7 172.52L168.3 166.92M165.5 166.92V172.52M162.7 169.72H168.3M174.56 167.58L180.16 173.18M174.56 173.18L180.16 167.58M177.36 167.58V173.18M174.56 170.38H180.16M186.42 166.07L192.02 171.67M186.42 171.67L192.02 166.07M189.22 166.07V171.67M186.42 168.87H192.02M198.27 171.08L203.88 176.68M198.27 176.68L203.88 171.08M201.07 171.08V176.68M198.27 173.88H203.88M210.13 154.62L215.73 160.22M210.13 160.22L215.73 154.62M212.93 154.62V160.22M210.13 157.42H215.73M221.99 149.88L227.59 155.48M221.99 155.48L227.59 149.88M224.79 149.88V155.48M221.99 152.68H227.59M233.85 139.95L239.45 145.55M233.85 145.55L239.45 139.95M236.65 139.95V145.55M233.85 142.75H239.45M245.71 142.69L251.31 148.29M245.71 148.29L251.31 142.69M248.51 142.69V148.29M245.71 145.49H251.31M257.57 178.66L263.17 184.26M257.57 184.26L263.17 178.66M260.37 178.66V184.26M257.57 181.46H263.17M269.43 176.57L275.03 182.17M269.43 182.17L275.03 176.57M272.23 176.57V182.17M269.43 179.37H275.03M281.28 180.26L286.88 185.86M281.28 185.86L286.88 180.26M284.08 180.26V185.86M281.28 183.06H286.88M293.14 175.53L298.74 181.13M293.14 181.13L298.74 175.53M295.94 175.53V181.13M293.14 178.33H298.74M305 181.68L310.6 187.28M305 187.28L310.6 181.68M307.8 181.68V187.28M305 184.48H310.6" stroke="#0000ff" stroke-width="1.2"/><polyline points="23.2,184.48 35.06,191.77 46.92,197.92 58.78,202.47 82.49,195.08 94.35,198.49 106.21,188.46 118.07,181.46 129.93,182.69 141.78,184.48 153.64,188.65 165.5,179.37 177.36,180.23 189.22,174.83 201.07,181.08 212.93,196.5 224.79,195.46 236.65,185.62 248.51,187.61 260.37,182.5 272.23,186 284.08,187.61 295.94,191.3 307.8,191.77" stroke="#ff0000" stroke-width="1.5"/><path d="M20.4 181.68L26 187.28M20.4 187.28L26 181.68M23.2 181.68V187.28M20.4 184.48H26M32.26 188.97L37.86 194.57M32.26 194.57L37.86 188.97M35.06 188.97V194.57M32.26 191.77H37.86M44.12 195.12L49.72 200.72M44.12 200.72L49.72 195.12M46.92 195.12V200.72M44.12 197.92H49.72M55.98 199.67L61.58 205.27M55.98 205.27L61.58 199.67M58.78 199.67V205.27M55.98 202.47H61.58M79.69 192.28L85.29 197.88M79.69 197.88L85.29 192.28M82.49 192.28V197.88M79.69 195.08H85.29M91.55 195.69L97.15 201.29M91.55 201.29L97.15 195.69M94.35 195.69V201.29M91.55 198.49H97.15M103.41 185.66L109.01 191.26M103.41 191.26L109.01 185.66M106.21 185.66V191.26M103.41 188.46H109.01M115.27 178.66L120.87 184.26M115.27 184.26L120.87 178.66M118.07 178.66V184.26M115.27 181.46H120.87M127.13 179.89L132.73 185.49M127.13 185.49L132.73 179.89M129.93 179.89V185.49M127.13 182.69H132.73M138.98 181.68L144.58 187.28M138.98 187.28L144.58 181.68M141.78 181.68V187.28M138.98 184.48H144.58M150.84 185.85L156.44 191.45M150.84 191.45L156.44 185.85M153.64 185.85V191.45M150.84 188.65H156.44M162.7 176.57L168.3 182.17M162.7 182.17L168.3 176.57M165.5 176.57V182.17M162.7 179.37H168.3M174.56 177.43L180.16 183.03M174.56 183.03L180.16 177.43M177.36 177.43V183.03M174.56 180.23H180.16M186.42 172.03L192.02 177.63M186.42 177.63L192.02 172.03M189.22 172.03V177.63M186.42 174.83H192.02M198.27 178.28L203.88 183.88M198.27 183.88L203.88 178.28M201.07 178.28V183.88M198.27 181.08H203.88M210.13 193.7L215.73 199.3M210.13 199.3L215.73 193.7M212.93 193.7V199.3M210.13 196.5H215.73M221.99 192.66L227.59 198.26M221.99 198.26L227.59 192.66M224.79 192.66V198.26M221.99 195.46H227.59M233.85 182.82L239.45 188.42M233.85 188.42L239.45 182.82M236.65 182.82V188.42M233.85 185.62H239.45M245.71 184.81L251.31 190.41M245.71 190.41L251.31 184.81M248.51 184.81V190.41M245.71 187.61H251.31M257.57 179.7L263.17 185.3M257.57 185.3L263.17 179.7M260.37 179.7V185.3M257.57 182.5H263.17M269.43 183.2L275.03 188.8M269.43 188.8L275.03 183.2M272.23 183.2V188.8M269.43 186H275.03M281.28 184.81L286.88 190.41M281.28 190.41L286.88 184.81M284.08 184.81V190.41M281.28 187.61H286.88M293.14 188.5L298.74 194.1M293.14 194.1L298.74 188.5M295.94 188.5V194.1M293.14 191.3H298.74M305 188.97L310.6 194.57M305 194.57L310.6 188.97M307.8 188.97V194.57M305 191.77H310.6" stroke="#ff0000" stroke-width="1.2"/></g><path d="M23.2 208.5H307.8M23.2 199.2H307.8M23.2 189.9H307.8M23.2 180.6H307.8M23.2 171.3H307.8M23.2 162H307.8M23.2 152.7H307.8M23.2 143.4H307.8M70.63 134.1V217.8M118.07 134.1V217.8M165.5 134.1V217.8M212.93 134.1V217.8M260.37 134.1V217.8" stroke="#000" stroke-width="1" stroke-dasharray="1 2" fill="none"/><path d="M23.2 217.8h6M307.8 217.8h-6M23.2 213.15h3.5M307.8 213.15h-3.5M23.2 208.5h6M307.8 208.5h-6M23.2 203.85h3.5M307.8 203.85h-3.5M23.2 199.2h6M307.8 199.2h-6M23.2 194.55h3.5M307.8 194.55h-3.5M23.2 189.9h6M307.8 189.9h-6M23.2 185.25h3.5M307.8 185.25h-3.5M23.2 180.6h6M307.8 180.6h-6M23.2 175.95h3.5M307.8 175.95h-3.5M23.2 171.3h6M307.8 171.3h-6M23.2 166.65h3.5M307.8 166.65h-3.5M23.2 162h6M307.8 162h-6M23.2 157.35h3.5M307.8 157.35h-3.5M23.2 152.7h6M307.8 152.7h-6M23.2 148.05h3.5M307.8 148.05h-3.5M23.2 143.4h6M307.8 143.4h-6M23.2 138.75h3.5M307.8 138.75h-3.5M23.2 134.1h6M307.8 134.1h-6M23.2 217.8v-6M23.2 134.1v6M46.92 217.8v-3.5M46.92 134.1v3.5M70.63 217.8v-6M70.63 134.1v6M94.35 217.8v-3.5M94.35 134.1v3.5M118.07 217.8v-6M118.07 134.1v6M141.78 217.8v-3.5M141.78 134.1v3.5M165.5 217.8v-6M165.5 134.1v6M189.22 217.8v-3.5M189.22 134.1v3.5M212.93 217.8v-6M212.93 134.1v6M236.65 217.8v-3.5M236.65 134.1v3.5M260.37 217.8v-6M260.37 134.1v6M284.08 217.8v-3.5M284.08 134.1v3.5M307.8 217.8v-6M307.8 134.1v6" stroke="#000" stroke-width="1.1" fill="none"/><rect x="23.2" y="134.1" width="284.6" height="83.7" fill="none" stroke="#000" stroke-width="1.9"/><g font-family="'Liberation Serif', 'DejaVu Serif', serif" font-weight="bold" font-size="9.2" fill="#000"><text transform="translate(18.2,220.9) scale(1.12,1)" text-anchor="end">0</text><text transform="translate(18.2,211.6) scale(1.12,1)" text-anchor="end">10</text><text transform="translate(18.2,202.3) scale(1.12,1)" text-anchor="end">20</text><text transform="translate(18.2,193) scale(1.12,1)" text-anchor="end">30</text><text transform="translate(18.2,183.7) scale(1.12,1)" text-anchor="end">40</text><text transform="translate(18.2,174.4) scale(1.12,1)" text-anchor="end">50</text><text transform="translate(18.2,165.1) scale(1.12,1)" text-anchor="end">60</text><text transform="translate(18.2,155.8) scale(1.12,1)" text-anchor="end">70</text><text transform="translate(18.2,146.5) scale(1.12,1)" text-anchor="end">80</text><text transform="translate(18.2,137.2) scale(1.12,1)" text-anchor="end">90</text><text transform="translate(23.2,229) scale(1.12,1)" text-anchor="middle">0</text><text transform="translate(70.63,229) scale(1.12,1)" text-anchor="middle">4</text><text transform="translate(118.07,229) scale(1.12,1)" text-anchor="middle">8</text><text transform="translate(165.5,229) scale(1.12,1)" text-anchor="middle">12</text><text transform="translate(212.93,229) scale(1.12,1)" text-anchor="middle">16</text><text transform="translate(260.37,229) scale(1.12,1)" text-anchor="middle">20</text><text transform="translate(307.8,229) scale(1.12,1)" text-anchor="middle">24</text></g><text x="309.1" y="131" text-anchor="end" font-family="'Liberation Serif', 'DejaVu Serif', serif" font-weight="bold" font-size="9.2" textLength="42.7" lengthAdjust="spacingAndGlyphs" fill="#000">NO2 (ppb)</text>
<g clip-path="url(#c3)" fill="none" stroke-linejoin="round"><polyline points="348.2,173.68 360.06,175.83 371.92,190.18 383.77,206.08 395.63,205.01 407.49,207.04 419.35,210.86 431.21,205.96 443.07,206.08 454.93,201.66 466.78,200.46 478.64,209.19 490.5,205.13 502.36,204.53 514.22,196.88 526.08,189.34 537.93,181.93 549.79,188.74 561.65,204.77 573.51,190.18 585.37,195.44 597.23,201.06 609.08,191.02 620.94,195.44 632.8,197.59" stroke="#00ffff" stroke-width="1.5"/><path d="M345.4 170.88L351 176.48M345.4 176.48L351 170.88M348.2 170.88V176.48M345.4 173.68H351M357.26 173.03L362.86 178.63M357.26 178.63L362.86 173.03M360.06 173.03V178.63M357.26 175.83H362.86M369.12 187.38L374.72 192.98M369.12 192.98L374.72 187.38M371.92 187.38V192.98M369.12 190.18H374.72M380.97 203.28L386.57 208.88M380.97 208.88L386.57 203.28M383.77 203.28V208.88M380.97 206.08H386.57M392.83 202.21L398.43 207.81M392.83 207.81L398.43 202.21M395.63 202.21V207.81M392.83 205.01H398.43M404.69 204.24L410.29 209.84M404.69 209.84L410.29 204.24M407.49 204.24V209.84M404.69 207.04H410.29M416.55 208.06L422.15 213.66M416.55 213.66L422.15 208.06M419.35 208.06V213.66M416.55 210.86H422.15M428.41 203.16L434.01 208.76M428.41 208.76L434.01 203.16M431.21 203.16V208.76M428.41 205.96H434.01M440.27 203.28L445.87 208.88M440.27 208.88L445.87 203.28M443.07 203.28V208.88M440.27 206.08H445.87M452.12 198.86L457.73 204.46M452.12 204.46L457.73 198.86M454.93 198.86V204.46M452.12 201.66H457.73M463.98 197.66L469.58 203.26M463.98 203.26L469.58 197.66M466.78 197.66V203.26M463.98 200.46H469.58M475.84 206.39L481.44 211.99M475.84 211.99L481.44 206.39M478.64 206.39V211.99M475.84 209.19H481.44M487.7 202.33L493.3 207.93M487.7 207.93L493.3 202.33M490.5 202.33V207.93M487.7 205.13H493.3M499.56 201.73L505.16 207.33M499.56 207.33L505.16 201.73M502.36 201.73V207.33M499.56 204.53H505.16M511.42 194.07L517.02 199.68M511.42 199.68L517.02 194.07M514.22 194.07V199.68M511.42 196.88H517.02M523.28 186.54L528.88 192.14M523.28 192.14L528.88 186.54M526.08 186.54V192.14M523.28 189.34H528.88M535.13 179.13L540.73 184.73M535.13 184.73L540.73 179.13M537.93 179.13V184.73M535.13 181.93H540.73M546.99 185.94L552.59 191.54M546.99 191.54L552.59 185.94M549.79 185.94V191.54M546.99 188.74H552.59M558.85 201.97L564.45 207.57M558.85 207.57L564.45 201.97M561.65 201.97V207.57M558.85 204.77H564.45M570.71 187.38L576.31 192.98M570.71 192.98L576.31 187.38M573.51 187.38V192.98M570.71 190.18H576.31M582.57 192.64L588.17 198.24M582.57 198.24L588.17 192.64M585.37 192.64V198.24M582.57 195.44H588.17M594.43 198.26L600.02 203.86M594.43 203.86L600.02 198.26M597.23 198.26V203.86M594.43 201.06H600.02M606.28 188.22L611.88 193.82M606.28 193.82L611.88 188.22M609.08 188.22V193.82M606.28 191.02H611.88M618.14 192.64L623.74 198.24M618.14 198.24L623.74 192.64M620.94 192.64V198.24M618.14 195.44H623.74M630 194.79L635.6 200.39M630 200.39L635.6 194.79M632.8 194.79V200.39M630 197.59H635.6" stroke="#00ffff" stroke-width="1.2"/><polyline points="348.2,196.88 360.06,201.06 371.92,196.88 383.77,192.69 395.63,198.07 407.49,190.06 419.35,193.05 431.21,197.95 443.07,197.11 454.93,197.35 466.78,195.44 478.64,192.81 490.5,191.37 502.36,195.44 514.22,199.63 526.08,183.12 537.93,165.43 549.79,173.68 561.65,185.28 573.51,184.56 585.37,177.38 597.23,168.78 609.08,171.29 620.94,167.58 632.8,165.43" stroke="#00ff00" stroke-width="1.5"/><path d="M345.4 194.07L351 199.68M345.4 199.68L351 194.07M348.2 194.07V199.68M345.4 196.88H351M357.26 198.26L362.86 203.86M357.26 203.86L362.86 198.26M360.06 198.26V203.86M357.26 201.06H362.86M369.12 194.07L374.72 199.68M369.12 199.68L374.72 194.07M371.92 194.07V199.68M369.12 196.88H374.72M380.97 189.89L386.57 195.49M380.97 195.49L386.57 189.89M383.77 189.89V195.49M380.97 192.69H386.57M392.83 195.27L398.43 200.87M392.83 200.87L398.43 195.27M395.63 195.27V200.87M392.83 198.07H398.43M404.69 187.26L410.29 192.86M404.69 192.86L410.29 187.26M407.49 187.26V192.86M404.69 190.06H410.29M416.55 190.25L422.15 195.85M416.55 195.85L422.15 190.25M419.35 190.25V195.85M416.55 193.05H422.15M428.41 195.15L434.01 200.75M428.41 200.75L434.01 195.15M431.21 195.15V200.75M428.41 197.95H434.01M440.27 194.31L445.87 199.91M440.27 199.91L445.87 194.31M443.07 194.31V199.91M440.27 197.11H445.87M452.12 194.55L457.73 200.15M452.12 200.15L457.73 194.55M454.93 194.55V200.15M452.12 197.35H457.73M463.98 192.64L469.58 198.24M463.98 198.24L469.58 192.64M466.78 192.64V198.24M463.98 195.44H469.58M475.84 190.01L481.44 195.61M475.84 195.61L481.44 190.01M478.64 190.01V195.61M475.84 192.81H481.44M487.7 188.57L493.3 194.17M487.7 194.17L493.3 188.57M490.5 188.57V194.17M487.7 191.37H493.3M499.56 192.64L505.16 198.24M499.56 198.24L505.16 192.64M502.36 192.64V198.24M499.56 195.44H505.16M511.42 196.83L517.02 202.43M511.42 202.43L517.02 196.83M514.22 196.83V202.43M511.42 199.63H517.02M523.28 180.32L528.88 185.92M523.28 185.92L528.88 180.32M526.08 180.32V185.92M523.28 183.12H528.88M535.13 162.63L540.73 168.23M535.13 168.23L540.73 162.63M537.93 162.63V168.23M535.13 165.43H540.73M546.99 170.88L552.59 176.48M546.99 176.48L552.59 170.88M549.79 170.88V176.48M546.99 173.68H552.59M558.85 182.48L564.45 188.08M558.85 188.08L564.45 182.48M561.65 182.48V188.08M558.85 185.28H564.45M570.71 181.76L576.31 187.36M570.71 187.36L576.31 181.76M573.51 181.76V187.36M570.71 184.56H576.31M582.57 174.58L588.17 180.18M582.57 180.18L588.17 174.58M585.37 174.58V180.18M582.57 177.38H588.17M594.43 165.98L600.02 171.58M594.43 171.58L600.02 165.98M597.23 165.98V171.58M594.43 168.78H600.02M606.28 168.49L611.88 174.09M606.28 174.09L611.88 168.49M609.08 168.49V174.09M606.28 171.29H611.88M618.14 164.78L623.74 170.38M618.14 170.38L623.74 164.78M620.94 164.78V170.38M618.14 167.58H623.74M630 162.63L635.6 168.23M630 168.23L635.6 162.63M632.8 162.63V168.23M630 165.43H635.6" stroke="#00ff00" stroke-width="1.2"/><polyline points="348.2,165.43 360.06,169.85 371.92,168.54 383.77,156.82 395.63,156.82 407.49,158.13 419.35,153.35 431.21,154.43 443.07,165.43 454.93,169.85 466.78,179.54 478.64,177.38 490.5,166.5 502.36,163.63 514.22,161.48 526.08,161.48 537.93,150.72 549.79,144.14 561.65,138.76 573.51,143.67 585.37,160.53 597.23,172.24 609.08,174.28 620.94,182.53 632.8,191.37" stroke="#0000ff" stroke-width="1.5"/><path d="M345.4 162.63L351 168.23M345.4 168.23L351 162.63M348.2 162.63V168.23M345.4 165.43H351M357.26 167.05L362.86 172.65M357.26 172.65L362.86 167.05M360.06 167.05V172.65M357.26 169.85H362.86M369.12 165.74L374.72 171.34M369.12 171.34L374.72 165.74M371.92 165.74V171.34M369.12 168.54H374.72M380.97 154.02L386.57 159.62M380.97 159.62L386.57 154.02M383.77 154.02V159.62M380.97 156.82H386.57M392.83 154.02L398.43 159.62M392.83 159.62L398.43 154.02M395.63 154.02V159.62M392.83 156.82H398.43M404.69 155.33L410.29 160.93M404.69 160.93L410.29 155.33M407.49 155.33V160.93M404.69 158.13H410.29M416.55 150.55L422.15 156.15M416.55 156.15L422.15 150.55M419.35 150.55V156.15M416.55 153.35H422.15M428.41 151.63L434.01 157.23M428.41 157.23L434.01 151.63M431.21 151.63V157.23M428.41 154.43H434.01M440.27 162.63L445.87 168.23M440.27 168.23L445.87 162.63M443.07 162.63V168.23M440.27 165.43H445.87M452.12 167.05L457.73 172.65M452.12 172.65L457.73 167.05M454.93 167.05V172.65M452.12 169.85H457.73M463.98 176.74L469.58 182.34M463.98 182.34L469.58 176.74M466.78 176.74V182.34M463.98 179.54H469.58M475.84 174.58L481.44 180.18M475.84 180.18L481.44 174.58M478.64 174.58V180.18M475.84 177.38H481.44M487.7 163.7L493.3 169.3M487.7 169.3L493.3 163.7M490.5 163.7V169.3M487.7 166.5H493.3M499.56 160.83L505.16 166.43M499.56 166.43L505.16 160.83M502.36 160.83V166.43M499.56 163.63H505.16M511.42 158.68L517.02 164.28M511.42 164.28L517.02 158.68M514.22 158.68V164.28M511.42 161.48H517.02M523.28 158.68L528.88 164.28M523.28 164.28L528.88 158.68M526.08 158.68V164.28M523.28 161.48H528.88M535.13 147.92L540.73 153.52M535.13 153.52L540.73 147.92M537.93 147.92V153.52M535.13 150.72H540.73M546.99 141.34L552.59 146.94M546.99 146.94L552.59 141.34M549.79 141.34V146.94M546.99 144.14H552.59M558.85 135.96L564.45 141.56M558.85 141.56L564.45 135.96M561.65 135.96V141.56M558.85 138.76H564.45M570.71 140.87L576.31 146.47M570.71 146.47L576.31 140.87M573.51 140.87V146.47M570.71 143.67H576.31M582.57 157.73L588.17 163.33M582.57 163.33L588.17 157.73M585.37 157.73V163.33M582.57 160.53H588.17M594.43 169.44L600.02 175.04M594.43 175.04L600.02 169.44M597.23 169.44V175.04M594.43 172.24H600.02M606.28 171.48L611.88 177.08M606.28 177.08L611.88 171.48M609.08 171.48V177.08M606.28 174.28H611.88M618.14 179.73L623.74 185.33M618.14 185.33L623.74 179.73M620.94 179.73V185.33M618.14 182.53H623.74M630 188.57L635.6 194.17M630 194.17L635.6 188.57M632.8 188.57V194.17M630 191.37H635.6" stroke="#0000ff" stroke-width="1.2"/><polyline points="348.2,191.37 360.06,193.89 371.92,196.88 383.77,202.38 395.63,198.55 407.49,203.33 419.35,206.08 431.21,198.67 443.07,197.47 454.93,192.45 466.78,185.28 478.64,186.71 490.5,189.34 502.36,175.83 514.22,180.49 526.08,177.86 537.93,186.71 549.79,191.14 561.65,183.6 573.51,173.32 585.37,171.29 597.23,177.38 609.08,180.49 620.94,179.54 632.8,183.6" stroke="#ff0000" stroke-width="1.5"/><path d="M345.4 188.57L351 194.17M345.4 194.17L351 188.57M348.2 188.57V194.17M345.4 191.37H351M357.26 191.09L362.86 196.69M357.26 196.69L362.86 191.09M360.06 191.09V196.69M357.26 193.89H362.86M369.12 194.07L374.72 199.68M369.12 199.68L374.72 194.07M371.92 194.07V199.68M369.12 196.88H374.72M380.97 199.58L386.57 205.18M380.97 205.18L386.57 199.58M383.77 199.58V205.18M380.97 202.38H386.57M392.83 195.75L398.43 201.35M392.83 201.35L398.43 195.75M395.63 195.75V201.35M392.83 198.55H398.43M404.69 200.53L410.29 206.13M404.69 206.13L410.29 200.53M407.49 200.53V206.13M404.69 203.33H410.29M416.55 203.28L422.15 208.88M416.55 208.88L422.15 203.28M419.35 203.28V208.88M416.55 206.08H422.15M428.41 195.87L434.01 201.47M428.41 201.47L434.01 195.87M431.21 195.87V201.47M428.41 198.67H434.01M440.27 194.67L445.87 200.27M440.27 200.27L445.87 194.67M443.07 194.67V200.27M440.27 197.47H445.87M452.12 189.65L457.73 195.25M452.12 195.25L457.73 189.65M454.93 189.65V195.25M452.12 192.45H457.73M463.98 182.48L469.58 188.08M463.98 188.08L469.58 182.48M466.78 182.48V188.08M463.98 185.28H469.58M475.84 183.91L481.44 189.51M475.84 189.51L481.44 183.91M478.64 183.91V189.51M475.84 186.71H481.44M487.7 186.54L493.3 192.14M487.7 192.14L493.3 186.54M490.5 186.54V192.14M487.7 189.34H493.3M499.56 173.03L505.16 178.63M499.56 178.63L505.16 173.03M502.36 173.03V178.63M499.56 175.83H505.16M511.42 177.69L517.02 183.29M511.42 183.29L517.02 177.69M514.22 177.69V183.29M511.42 180.49H517.02M523.28 175.06L528.88 180.66M523.28 180.66L528.88 175.06M526.08 175.06V180.66M523.28 177.86H528.88M535.13 183.91L540.73 189.51M535.13 189.51L540.73 183.91M537.93 183.91V189.51M535.13 186.71H540.73M546.99 188.34L552.59 193.94M546.99 193.94L552.59 188.34M549.79 188.34V193.94M546.99 191.14H552.59M558.85 180.8L564.45 186.4M558.85 186.4L564.45 180.8M561.65 180.8V186.4M558.85 183.6H564.45M570.71 170.52L576.31 176.12M570.71 176.12L576.31 170.52M573.51 170.52V176.12M570.71 173.32H576.31M582.57 168.49L588.17 174.09M582.57 174.09L588.17 168.49M585.37 168.49V174.09M582.57 171.29H588.17M594.43 174.58L600.02 180.18M594.43 180.18L600.02 174.58M597.23 174.58V180.18M594.43 177.38H600.02M606.28 177.69L611.88 183.29M606.28 183.29L611.88 177.69M609.08 177.69V183.29M606.28 180.49H611.88M618.14 176.74L623.74 182.34M618.14 182.34L623.74 176.74M620.94 176.74V182.34M618.14 179.54H623.74M630 180.8L635.6 186.4M630 186.4L635.6 180.8M632.8 180.8V186.4M630 183.6H635.6" stroke="#ff0000" stroke-width="1.2"/></g><path d="M348.2 205.84H632.8M348.2 193.89H632.8M348.2 181.93H632.8M348.2 169.97H632.8M348.2 158.01H632.8M348.2 146.06H632.8M395.63 134.1V217.8M443.07 134.1V217.8M490.5 134.1V217.8M537.93 134.1V217.8M585.37 134.1V217.8" stroke="#000" stroke-width="1" stroke-dasharray="1 2" fill="none"/><path d="M348.2 217.8h6M632.8 217.8h-6M348.2 211.82h3.5M632.8 211.82h-3.5M348.2 205.84h6M632.8 205.84h-6M348.2 199.86h3.5M632.8 199.86h-3.5M348.2 193.89h6M632.8 193.89h-6M348.2 187.91h3.5M632.8 187.91h-3.5M348.2 181.93h6M632.8 181.93h-6M348.2 175.95h3.5M632.8 175.95h-3.5M348.2 169.97h6M632.8 169.97h-6M348.2 163.99h3.5M632.8 163.99h-3.5M348.2 158.01h6M632.8 158.01h-6M348.2 152.04h3.5M632.8 152.04h-3.5M348.2 146.06h6M632.8 146.06h-6M348.2 140.08h3.5M632.8 140.08h-3.5M348.2 134.1h6M632.8 134.1h-6M348.2 217.8v-6M348.2 134.1v6M371.92 217.8v-3.5M371.92 134.1v3.5M395.63 217.8v-6M395.63 134.1v6M419.35 217.8v-3.5M419.35 134.1v3.5M443.07 217.8v-6M443.07 134.1v6M466.78 217.8v-3.5M466.78 134.1v3.5M490.5 217.8v-6M490.5 134.1v6M514.22 217.8v-3.5M514.22 134.1v3.5M537.93 217.8v-6M537.93 134.1v6M561.65 217.8v-3.5M561.65 134.1v3.5M585.37 217.8v-6M585.37 134.1v6M609.08 217.8v-3.5M609.08 134.1v3.5M632.8 217.8v-6M632.8 134.1v6" stroke="#000" stroke-width="1.1" fill="none"/><rect x="348.2" y="134.1" width="284.6" height="83.7" fill="none" stroke="#000" stroke-width="1.9"/><g font-family="'Liberation Serif', 'DejaVu Serif', serif" font-weight="bold" font-size="9.2" fill="#000"><text transform="translate(343.2,220.9) scale(1.12,1)" text-anchor="end">0</text><text transform="translate(343.2,208.94) scale(1.12,1)" text-anchor="end">10</text><text transform="translate(343.2,196.99) scale(1.12,1)" text-anchor="end">20</text><text transform="translate(343.2,185.03) scale(1.12,1)" text-anchor="end">30</text><text transform="translate(343.2,173.07) scale(1.12,1)" text-anchor="end">40</text><text transform="translate(343.2,161.11) scale(1.12,1)" text-anchor="end">50</text><text transform="translate(343.2,149.16) scale(1.12,1)" text-anchor="end">60</text><text transform="translate(343.2,137.2) scale(1.12,1)" text-anchor="end">70</text><text transform="translate(348.2,229) scale(1.12,1)" text-anchor="middle">0</text><text transform="translate(395.63,229) scale(1.12,1)" text-anchor="middle">4</text><text transform="translate(443.07,229) scale(1.12,1)" text-anchor="middle">8</text><text transform="translate(490.5,229) scale(1.12,1)" text-anchor="middle">12</text><text transform="translate(537.93,229) scale(1.12,1)" text-anchor="middle">16</text><text transform="translate(585.37,229) scale(1.12,1)" text-anchor="middle">20</text><text transform="translate(632.8,229) scale(1.12,1)" text-anchor="middle">24</text></g><text x="634.1" y="131" text-anchor="end" font-family="'Liberation Serif', 'DejaVu Serif', serif" font-weight="bold" font-size="9.2" textLength="56.6" lengthAdjust="spacingAndGlyphs" fill="#000">RSP (ug/m3)</text>
<g clip-path="url(#c4)" fill="none" stroke-linejoin="round"><polyline points="673.2,163.06 685.06,168.25 696.92,184.65 708.78,201.06 720.63,202.57 732.49,206.58 744.35,214.45 756.21,209.26 768.07,211.27 779.93,201.06 791.78,199.05 803.64,212.78 815.5,206.08 827.36,207.76 839.22,201.06 851.08,201.06 862.93,189.34 874.79,190.18 886.65,204.07 898.51,188.34 910.37,192.86 922.23,204.07 934.08,189.34 945.94,192.52 957.8,197.54" stroke="#00ffff" stroke-width="1.5"/><path d="M670.4 160.26L676 165.86M670.4 165.86L676 160.26M673.2 160.26V165.86M670.4 163.06H676M682.26 165.45L687.86 171.05M682.26 171.05L687.86 165.45M685.06 165.45V171.05M682.26 168.25H687.86M694.12 181.85L699.72 187.45M694.12 187.45L699.72 181.85M696.92 181.85V187.45M694.12 184.65H699.72M705.98 198.26L711.58 203.86M705.98 203.86L711.58 198.26M708.78 198.26V203.86M705.98 201.06H711.58M717.83 199.77L723.43 205.37M717.83 205.37L723.43 199.77M720.63 199.77V205.37M717.83 202.57H723.43M729.69 203.78L735.29 209.38M729.69 209.38L735.29 203.78M732.49 203.78V209.38M729.69 206.58H735.29M741.55 211.65L747.15 217.25M741.55 217.25L747.15 211.65M744.35 211.65V217.25M741.55 214.45H747.15M753.41 206.46L759.01 212.06M753.41 212.06L759.01 206.46M756.21 206.46V212.06M753.41 209.26H759.01M765.27 208.47L770.87 214.07M765.27 214.07L770.87 208.47M768.07 208.47V214.07M765.27 211.27H770.87M777.13 198.26L782.73 203.86M777.13 203.86L782.73 198.26M779.93 198.26V203.86M777.13 201.06H782.73M788.98 196.25L794.58 201.85M788.98 201.85L794.58 196.25M791.78 196.25V201.85M788.98 199.05H794.58M800.84 209.98L806.44 215.58M800.84 215.58L806.44 209.98M803.64 209.98V215.58M800.84 212.78H806.44M812.7 203.28L818.3 208.88M812.7 208.88L818.3 203.28M815.5 203.28V208.88M812.7 206.08H818.3M824.56 204.96L830.16 210.56M824.56 210.56L830.16 204.96M827.36 204.96V210.56M824.56 207.76H830.16M836.42 198.26L842.02 203.86M836.42 203.86L842.02 198.26M839.22 198.26V203.86M836.42 201.06H842.02M848.28 198.26L853.88 203.86M848.28 203.86L853.88 198.26M851.08 198.26V203.86M848.28 201.06H853.88M860.13 186.54L865.73 192.14M860.13 192.14L865.73 186.54M862.93 186.54V192.14M860.13 189.34H865.73M871.99 187.38L877.59 192.98M871.99 192.98L877.59 187.38M874.79 187.38V192.98M871.99 190.18H877.59M883.85 201.27L889.45 206.87M883.85 206.87L889.45 201.27M886.65 201.27V206.87M883.85 204.07H889.45M895.71 185.54L901.31 191.14M895.71 191.14L901.31 185.54M898.51 185.54V191.14M895.71 188.34H901.31M907.57 190.06L913.17 195.66M907.57 195.66L913.17 190.06M910.37 190.06V195.66M907.57 192.86H913.17M919.43 201.27L925.02 206.87M919.43 206.87L925.02 201.27M922.23 201.27V206.87M919.43 204.07H925.02M931.28 186.54L936.88 192.14M931.28 192.14L936.88 186.54M934.08 186.54V192.14M931.28 189.34H936.88M943.14 189.72L948.74 195.32M943.14 195.32L948.74 189.72M945.94 189.72V195.32M943.14 192.52H948.74M955 194.74L960.6 200.34M955 200.34L960.6 194.74M957.8 194.74V200.34M955 197.54H960.6" stroke="#00ffff" stroke-width="1.2"/><polyline points="673.2,197.54 685.06,201.06 696.92,193.86 708.78,189.68 720.63,192.86 732.49,185.99 744.35,189.68 756.21,196.54 768.07,196.54 779.93,194.53 791.78,191.18 803.64,192.86 815.5,189.68 827.36,192.19 839.22,201.06 851.08,182.48 862.93,172.6 874.79,180.47 886.65,185.66 898.51,182.48 910.37,172.6 922.23,167.58 934.08,173.27 945.94,165.57 957.8,159.54" stroke="#00ff00" stroke-width="1.5"/><path d="M670.4 194.74L676 200.34M670.4 200.34L676 194.74M673.2 194.74V200.34M670.4 197.54H676M682.26 198.26L687.86 203.86M682.26 203.86L687.86 198.26M685.06 198.26V203.86M682.26 201.06H687.86M694.12 191.06L699.72 196.66M694.12 196.66L699.72 191.06M696.92 191.06V196.66M694.12 193.86H699.72M705.98 186.88L711.58 192.48M705.98 192.48L711.58 186.88M708.78 186.88V192.48M705.98 189.68H711.58M717.83 190.06L723.43 195.66M717.83 195.66L723.43 190.06M720.63 190.06V195.66M717.83 192.86H723.43M729.69 183.19L735.29 188.79M729.69 188.79L735.29 183.19M732.49 183.19V188.79M729.69 185.99H735.29M741.55 186.88L747.15 192.48M741.55 192.48L747.15 186.88M744.35 186.88V192.48M741.55 189.68H747.15M753.41 193.74L759.01 199.34M753.41 199.34L759.01 193.74M756.21 193.74V199.34M753.41 196.54H759.01M765.27 193.74L770.87 199.34M765.27 199.34L770.87 193.74M768.07 193.74V199.34M765.27 196.54H770.87M777.13 191.73L782.73 197.33M777.13 197.33L782.73 191.73M779.93 191.73V197.33M777.13 194.53H782.73M788.98 188.38L794.58 193.98M788.98 193.98L794.58 188.38M791.78 188.38V193.98M788.98 191.18H794.58M800.84 190.06L806.44 195.66M800.84 195.66L806.44 190.06M803.64 190.06V195.66M800.84 192.86H806.44M812.7 186.88L818.3 192.48M812.7 192.48L818.3 186.88M815.5 186.88V192.48M812.7 189.68H818.3M824.56 189.39L830.16 194.99M824.56 194.99L830.16 189.39M827.36 189.39V194.99M824.56 192.19H830.16M836.42 198.26L842.02 203.86M836.42 203.86L842.02 198.26M839.22 198.26V203.86M836.42 201.06H842.02M848.28 179.68L853.88 185.28M848.28 185.28L853.88 179.68M851.08 179.68V185.28M848.28 182.48H853.88M860.13 169.8L865.73 175.4M860.13 175.4L865.73 169.8M862.93 169.8V175.4M860.13 172.6H865.73M871.99 177.67L877.59 183.27M871.99 183.27L877.59 177.67M874.79 177.67V183.27M871.99 180.47H877.59M883.85 182.86L889.45 188.46M883.85 188.46L889.45 182.86M886.65 182.86V188.46M883.85 185.66H889.45M895.71 179.68L901.31 185.28M895.71 185.28L901.31 179.68M898.51 179.68V185.28M895.71 182.48H901.31M907.57 169.8L913.17 175.4M907.57 175.4L913.17 169.8M910.37 169.8V175.4M907.57 172.6H913.17M919.43 164.78L925.02 170.38M919.43 170.38L925.02 164.78M922.23 164.78V170.38M919.43 167.58H925.02M931.28 170.47L936.88 176.07M931.28 176.07L936.88 170.47M934.08 170.47V176.07M931.28 173.27H936.88M943.14 162.77L948.74 168.37M943.14 168.37L948.74 162.77M945.94 162.77V168.37M943.14 165.57H948.74M955 156.74L960.6 162.34M955 162.34L960.6 156.74M957.8 156.74V162.34M955 159.54H960.6" stroke="#00ff00" stroke-width="1.2"/><polyline points="673.2,159.54 685.06,167.58 696.92,169.25 708.78,162.39 720.63,166.07 732.49,166.07 744.35,161.05 756.21,161.05 768.07,168.75 779.93,172.6 791.78,180.47 803.64,180.47 815.5,171.26 827.36,170.76 839.22,167.58 851.08,171.26 862.93,159.54 874.79,147.66 886.65,144.14 898.51,147.66 910.37,159.54 922.23,168.75 934.08,171.26 945.94,179.47 957.8,189.68" stroke="#0000ff" stroke-width="1.5"/><path d="M670.4 156.74L676 162.34M670.4 162.34L676 156.74M673.2 156.74V162.34M670.4 159.54H676M682.26 164.78L687.86 170.38M682.26 170.38L687.86 164.78M685.06 164.78V170.38M682.26 167.58H687.86M694.12 166.45L699.72 172.05M694.12 172.05L699.72 166.45M696.92 166.45V172.05M694.12 169.25H699.72M705.98 159.59L711.58 165.19M705.98 165.19L711.58 159.59M708.78 159.59V165.19M705.98 162.39H711.58M717.83 163.27L723.43 168.87M717.83 168.87L723.43 163.27M720.63 163.27V168.87M717.83 166.07H723.43M729.69 163.27L735.29 168.87M729.69 168.87L735.29 163.27M732.49 163.27V168.87M729.69 166.07H735.29M741.55 158.25L747.15 163.85M741.55 163.85L747.15 158.25M744.35 158.25V163.85M741.55 161.05H747.15M753.41 158.25L759.01 163.85M753.41 163.85L759.01 158.25M756.21 158.25V163.85M753.41 161.05H759.01M765.27 165.95L770.87 171.55M765.27 171.55L770.87 165.95M768.07 165.95V171.55M765.27 168.75H770.87M777.13 169.8L782.73 175.4M777.13 175.4L782.73 169.8M779.93 169.8V175.4M777.13 172.6H782.73M788.98 177.67L794.58 183.27M788.98 183.27L794.58 177.67M791.78 177.67V183.27M788.98 180.47H794.58M800.84 177.67L806.44 183.27M800.84 183.27L806.44 177.67M803.64 177.67V183.27M800.84 180.47H806.44M812.7 168.46L818.3 174.06M812.7 174.06L818.3 168.46M815.5 168.46V174.06M812.7 171.26H818.3M824.56 167.96L830.16 173.56M824.56 173.56L830.16 167.96M827.36 167.96V173.56M824.56 170.76H830.16M836.42 164.78L842.02 170.38M836.42 170.38L842.02 164.78M839.22 164.78V170.38M836.42 167.58H842.02M848.28 168.46L853.88 174.06M848.28 174.06L853.88 168.46M851.08 168.46V174.06M848.28 171.26H853.88M860.13 156.74L865.73 162.34M860.13 162.34L865.73 156.74M862.93 156.74V162.34M860.13 159.54H865.73M871.99 144.86L877.59 150.46M871.99 150.46L877.59 144.86M874.79 144.86V150.46M871.99 147.66H877.59M883.85 141.34L889.45 146.94M883.85 146.94L889.45 141.34M886.65 141.34V146.94M883.85 144.14H889.45M895.71 144.86L901.31 150.46M895.71 150.46L901.31 144.86M898.51 144.86V150.46M895.71 147.66H901.31M907.57 156.74L913.17 162.34M907.57 162.34L913.17 156.74M910.37 156.74V162.34M907.57 159.54H913.17M919.43 165.95L925.02 171.55M919.43 171.55L925.02 165.95M922.23 165.95V171.55M919.43 168.75H925.02M931.28 168.46L936.88 174.06M931.28 174.06L936.88 168.46M934.08 168.46V174.06M931.28 171.26H936.88M943.14 176.67L948.74 182.27M943.14 182.27L948.74 176.67M945.94 176.67V182.27M943.14 179.47H948.74M955 186.88L960.6 192.48M955 192.48L960.6 186.88M957.8 186.88V192.48M955 189.68H960.6" stroke="#0000ff" stroke-width="1.2"/><polyline points="673.2,189.68 685.06,194.2 696.92,192.86 708.78,201.06 720.63,193.53 732.49,203.07 744.35,206.08 756.21,197.38 768.07,197.38 779.93,189.34 791.78,182.14 803.64,180.47 815.5,188.34 827.36,175.95 839.22,182.48 851.08,180.64 862.93,188.34 874.79,191.18 886.65,184.65 898.51,172.6 910.37,169.25 922.23,176.45 934.08,177.46 945.94,171.26 957.8,178.13" stroke="#ff0000" stroke-width="1.5"/><path d="M670.4 186.88L676 192.48M670.4 192.48L676 186.88M673.2 186.88V192.48M670.4 189.68H676M682.26 191.4L687.86 197M682.26 197L687.86 191.4M685.06 191.4V197M682.26 194.2H687.86M694.12 190.06L699.72 195.66M694.12 195.66L699.72 190.06M696.92 190.06V195.66M694.12 192.86H699.72M705.98 198.26L711.58 203.86M705.98 203.86L711.58 198.26M708.78 198.26V203.86M705.98 201.06H711.58M717.83 190.73L723.43 196.33M717.83 196.33L723.43 190.73M720.63 190.73V196.33M717.83 193.53H723.43M729.69 200.27L735.29 205.87M729.69 205.87L735.29 200.27M732.49 200.27V205.87M729.69 203.07H735.29M741.55 203.28L747.15 208.88M741.55 208.88L747.15 203.28M744.35 203.28V208.88M741.55 206.08H747.15M753.41 194.58L759.01 200.18M753.41 200.18L759.01 194.58M756.21 194.58V200.18M753.41 197.38H759.01M765.27 194.58L770.87 200.18M765.27 200.18L770.87 194.58M768.07 194.58V200.18M765.27 197.38H770.87M777.13 186.54L782.73 192.14M777.13 192.14L782.73 186.54M779.93 186.54V192.14M777.13 189.34H782.73M788.98 179.34L794.58 184.94M788.98 184.94L794.58 179.34M791.78 179.34V184.94M788.98 182.14H794.58M800.84 177.67L806.44 183.27M800.84 183.27L806.44 177.67M803.64 177.67V183.27M800.84 180.47H806.44M812.7 185.54L818.3 191.14M812.7 191.14L818.3 185.54M815.5 185.54V191.14M812.7 188.34H818.3M824.56 173.15L830.16 178.75M824.56 178.75L830.16 173.15M827.36 173.15V178.75M824.56 175.95H830.16M836.42 179.68L842.02 185.28M836.42 185.28L842.02 179.68M839.22 179.68V185.28M836.42 182.48H842.02M848.28 177.84L853.88 183.44M848.28 183.44L853.88 177.84M851.08 177.84V183.44M848.28 180.64H853.88M860.13 185.54L865.73 191.14M860.13 191.14L865.73 185.54M862.93 185.54V191.14M860.13 188.34H865.73M871.99 188.38L877.59 193.98M871.99 193.98L877.59 188.38M874.79 188.38V193.98M871.99 191.18H877.59M883.85 181.85L889.45 187.45M883.85 187.45L889.45 181.85M886.65 181.85V187.45M883.85 184.65H889.45M895.71 169.8L901.31 175.4M895.71 175.4L901.31 169.8M898.51 169.8V175.4M895.71 172.6H901.31M907.57 166.45L913.17 172.05M907.57 172.05L913.17 166.45M910.37 166.45V172.05M907.57 169.25H913.17M919.43 173.65L925.02 179.25M919.43 179.25L925.02 173.65M922.23 173.65V179.25M919.43 176.45H925.02M931.28 174.66L936.88 180.26M931.28 180.26L936.88 174.66M934.08 174.66V180.26M931.28 177.46H936.88M943.14 168.46L948.74 174.06M943.14 174.06L948.74 168.46M945.94 168.46V174.06M943.14 171.26H948.74M955 175.33L960.6 180.93M955 180.93L960.6 175.33M957.8 175.33V180.93M955 178.13H960.6" stroke="#ff0000" stroke-width="1.2"/></g><path d="M673.2 201.06H957.8M673.2 184.32H957.8M673.2 167.58H957.8M673.2 150.84H957.8M720.63 134.1V217.8M768.07 134.1V217.8M815.5 134.1V217.8M862.93 134.1V217.8M910.37 134.1V217.8" stroke="#000" stroke-width="1" stroke-dasharray="1 2" fill="none"/><path d="M673.2 217.8h6M957.8 217.8h-6M673.2 209.43h3.5M957.8 209.43h-3.5M673.2 201.06h6M957.8 201.06h-6M673.2 192.69h3.5M957.8 192.69h-3.5M673.2 184.32h6M957.8 184.32h-6M673.2 175.95h3.5M957.8 175.95h-3.5M673.2 167.58h6M957.8 167.58h-6M673.2 159.21h3.5M957.8 159.21h-3.5M673.2 150.84h6M957.8 150.84h-6M673.2 142.47h3.5M957.8 142.47h-3.5M673.2 134.1h6M957.8 134.1h-6M673.2 217.8v-6M673.2 134.1v6M696.92 217.8v-3.5M696.92 134.1v3.5M720.63 217.8v-6M720.63 134.1v6M744.35 217.8v-3.5M744.35 134.1v3.5M768.07 217.8v-6M768.07 134.1v6M791.78 217.8v-3.5M791.78 134.1v3.5M815.5 217.8v-6M815.5 134.1v6M839.22 217.8v-3.5M839.22 134.1v3.5M862.93 217.8v-6M862.93 134.1v6M886.65 217.8v-3.5M886.65 134.1v3.5M910.37 217.8v-6M910.37 134.1v6M934.08 217.8v-3.5M934.08 134.1v3.5M957.8 217.8v-6M957.8 134.1v6" stroke="#000" stroke-width="1.1" fill="none"/><rect x="673.2" y="134.1" width="284.6" height="83.7" fill="none" stroke="#000" stroke-width="1.9"/><g font-family="'Liberation Serif', 'DejaVu Serif', serif" font-weight="bold" font-size="9.2" fill="#000"><text transform="translate(668.2,220.9) scale(1.12,1)" text-anchor="end">0</text><text transform="translate(668.2,204.16) scale(1.12,1)" text-anchor="end">10</text><text transform="translate(668.2,187.42) scale(1.12,1)" text-anchor="end">20</text><text transform="translate(668.2,170.68) scale(1.12,1)" text-anchor="end">30</text><text transform="translate(668.2,153.94) scale(1.12,1)" text-anchor="end">40</text><text transform="translate(668.2,137.2) scale(1.12,1)" text-anchor="end">50</text><text transform="translate(673.2,229) scale(1.12,1)" text-anchor="middle">0</text><text transform="translate(720.63,229) scale(1.12,1)" text-anchor="middle">4</text><text transform="translate(768.07,229) scale(1.12,1)" text-anchor="middle">8</text><text transform="translate(815.5,229) scale(1.12,1)" text-anchor="middle">12</text><text transform="translate(862.93,229) scale(1.12,1)" text-anchor="middle">16</text><text transform="translate(910.37,229) scale(1.12,1)" text-anchor="middle">20</text><text transform="translate(957.8,229) scale(1.12,1)" text-anchor="middle">24</text></g><text x="959.1" y="131" text-anchor="end" font-family="'Liberation Serif', 'DejaVu Serif', serif" font-weight="bold" font-size="9.2" textLength="56.6" lengthAdjust="spacingAndGlyphs" fill="#000">FSP (ug/m3)</text>
<g clip-path="url(#c5)" fill="none" stroke-linejoin="round"><polyline points="23.2,263.77 35.06,300.74 46.92,309.81 58.78,315.39 70.63,315.39 82.49,315.39 94.35,317.48 106.21,315.39 118.07,315.39 129.93,315.39 141.78,315.39 153.64,315.39 165.5,315.39 177.36,315.39 189.22,315.39 201.07,312.6 212.93,315.39 224.79,315.39 236.65,315.39 248.51,315.39 260.37,315.39 272.23,313.99 284.08,312.25 295.94,312.25 307.8,315.39" stroke="#00ffff" stroke-width="1.5"/><path d="M20.4 260.97L26 266.57M20.4 266.57L26 260.97M23.2 260.97V266.57M20.4 263.77H26M32.26 297.94L37.86 303.54M32.26 303.54L37.86 297.94M35.06 297.94V303.54M32.26 300.74H37.86M44.12 307.01L49.72 312.61M44.12 312.61L49.72 307.01M46.92 307.01V312.61M44.12 309.81H49.72M55.98 312.59L61.58 318.19M55.98 318.19L61.58 312.59M58.78 312.59V318.19M55.98 315.39H61.58M67.83 312.59L73.43 318.19M67.83 318.19L73.43 312.59M70.63 312.59V318.19M67.83 315.39H73.43M79.69 312.59L85.29 318.19M79.69 318.19L85.29 312.59M82.49 312.59V318.19M79.69 315.39H85.29M91.55 314.68L97.15 320.28M91.55 320.28L97.15 314.68M94.35 314.68V320.28M91.55 317.48H97.15M103.41 312.59L109.01 318.19M103.41 318.19L109.01 312.59M106.21 312.59V318.19M103.41 315.39H109.01M115.27 312.59L120.87 318.19M115.27 318.19L120.87 312.59M118.07 312.59V318.19M115.27 315.39H120.87M127.13 312.59L132.73 318.19M127.13 318.19L132.73 312.59M129.93 312.59V318.19M127.13 315.39H132.73M138.98 312.59L144.58 318.19M138.98 318.19L144.58 312.59M141.78 312.59V318.19M138.98 315.39H144.58M150.84 312.59L156.44 318.19M150.84 318.19L156.44 312.59M153.64 312.59V318.19M150.84 315.39H156.44M162.7 312.59L168.3 318.19M162.7 318.19L168.3 312.59M165.5 312.59V318.19M162.7 315.39H168.3M174.56 312.59L180.16 318.19M174.56 318.19L180.16 312.59M177.36 312.59V318.19M174.56 315.39H180.16M186.42 312.59L192.02 318.19M186.42 318.19L192.02 312.59M189.22 312.59V318.19M186.42 315.39H192.02M198.27 309.8L203.88 315.4M198.27 315.4L203.88 309.8M201.07 309.8V315.4M198.27 312.6H203.88M210.13 312.59L215.73 318.19M210.13 318.19L215.73 312.59M212.93 312.59V318.19M210.13 315.39H215.73M221.99 312.59L227.59 318.19M221.99 318.19L227.59 312.59M224.79 312.59V318.19M221.99 315.39H227.59M233.85 312.59L239.45 318.19M233.85 318.19L239.45 312.59M236.65 312.59V318.19M233.85 315.39H239.45M245.71 312.59L251.31 318.19M245.71 318.19L251.31 312.59M248.51 312.59V318.19M245.71 315.39H251.31M257.57 312.59L263.17 318.19M257.57 318.19L263.17 312.59M260.37 312.59V318.19M257.57 315.39H263.17M269.43 311.19L275.03 316.79M269.43 316.79L275.03 311.19M272.23 311.19V316.79M269.43 313.99H275.03M281.28 309.45L286.88 315.05M281.28 315.05L286.88 309.45M284.08 309.45V315.05M281.28 312.25H286.88M293.14 309.45L298.74 315.05M293.14 315.05L298.74 309.45M295.94 309.45V315.05M293.14 312.25H298.74M305 312.59L310.6 318.19M305 318.19L310.6 312.59M307.8 312.59V318.19M305 315.39H310.6" stroke="#00ffff" stroke-width="1.2"/><polyline points="23.2,314.69 35.06,312.25 46.92,314.69 58.78,315.39 94.35,313.99 106.21,312.25 118.07,312.25 129.93,312.25 165.5,312.25 177.36,312.25 189.22,309.81 201.07,304.93 212.93,307.02 224.79,310.16 236.65,310.16 248.51,310.16 260.37,311.55 272.23,310.16 284.08,310.16 295.94,310.16 307.8,310.16" stroke="#00ff00" stroke-width="1.5"/><path d="M20.4 311.89L26 317.49M20.4 317.49L26 311.89M23.2 311.89V317.49M20.4 314.69H26M32.26 309.45L37.86 315.05M32.26 315.05L37.86 309.45M35.06 309.45V315.05M32.26 312.25H37.86M44.12 311.89L49.72 317.49M44.12 317.49L49.72 311.89M46.92 311.89V317.49M44.12 314.69H49.72M55.98 312.59L61.58 318.19M55.98 318.19L61.58 312.59M58.78 312.59V318.19M55.98 315.39H61.58M91.55 311.19L97.15 316.79M91.55 316.79L97.15 311.19M94.35 311.19V316.79M91.55 313.99H97.15M103.41 309.45L109.01 315.05M103.41 315.05L109.01 309.45M106.21 309.45V315.05M103.41 312.25H109.01M115.27 309.45L120.87 315.05M115.27 315.05L120.87 309.45M118.07 309.45V315.05M115.27 312.25H120.87M127.13 309.45L132.73 315.05M127.13 315.05L132.73 309.45M129.93 309.45V315.05M127.13 312.25H132.73M162.7 309.45L168.3 315.05M162.7 315.05L168.3 309.45M165.5 309.45V315.05M162.7 312.25H168.3M174.56 309.45L180.16 315.05M174.56 315.05L180.16 309.45M177.36 309.45V315.05M174.56 312.25H180.16M186.42 307.01L192.02 312.61M186.42 312.61L192.02 307.01M189.22 307.01V312.61M186.42 309.81H192.02M198.27 302.12L203.88 307.73M198.27 307.73L203.88 302.12M201.07 302.12V307.73M198.27 304.93H203.88M210.13 304.22L215.73 309.82M210.13 309.82L215.73 304.22M212.93 304.22V309.82M210.13 307.02H215.73M221.99 307.36L227.59 312.96M221.99 312.96L227.59 307.36M224.79 307.36V312.96M221.99 310.16H227.59M233.85 307.36L239.45 312.96M233.85 312.96L239.45 307.36M236.65 307.36V312.96M233.85 310.16H239.45M245.71 307.36L251.31 312.96M245.71 312.96L251.31 307.36M248.51 307.36V312.96M245.71 310.16H251.31M257.57 308.75L263.17 314.35M257.57 314.35L263.17 308.75M260.37 308.75V314.35M257.57 311.55H263.17M269.43 307.36L275.03 312.96M269.43 312.96L275.03 307.36M272.23 307.36V312.96M269.43 310.16H275.03M281.28 307.36L286.88 312.96M281.28 312.96L286.88 307.36M284.08 307.36V312.96M281.28 310.16H286.88M293.14 307.36L298.74 312.96M293.14 312.96L298.74 307.36M295.94 307.36V312.96M293.14 310.16H298.74M305 307.36L310.6 312.96M305 312.96L310.6 307.36M307.8 307.36V312.96M305 310.16H310.6" stroke="#00ff00" stroke-width="1.2"/><polyline points="23.2,309.81 35.06,304.23 46.92,304.23 58.78,304.23 70.63,304.23 82.49,304.23 94.35,304.23 106.21,307.02 118.07,307.02 129.93,307.02 141.78,309.46 153.64,304.23 165.5,272.49 177.36,272.49 189.22,277.72 201.07,288.53 212.93,272.49 224.79,277.72 236.65,267.26 248.51,251.22 260.37,304.23 272.23,309.46 284.08,311.55 295.94,311.55 307.8,315.39" stroke="#0000ff" stroke-width="1.5"/><path d="M20.4 307.01L26 312.61M20.4 312.61L26 307.01M23.2 307.01V312.61M20.4 309.81H26M32.26 301.43L37.86 307.03M32.26 307.03L37.86 301.43M35.06 301.43V307.03M32.26 304.23H37.86M44.12 301.43L49.72 307.03M44.12 307.03L49.72 301.43M46.92 301.43V307.03M44.12 304.23H49.72M55.98 301.43L61.58 307.03M55.98 307.03L61.58 301.43M58.78 301.43V307.03M55.98 304.23H61.58M67.83 301.43L73.43 307.03M67.83 307.03L73.43 301.43M70.63 301.43V307.03M67.83 304.23H73.43M79.69 301.43L85.29 307.03M79.69 307.03L85.29 301.43M82.49 301.43V307.03M79.69 304.23H85.29M91.55 301.43L97.15 307.03M91.55 307.03L97.15 301.43M94.35 301.43V307.03M91.55 304.23H97.15M103.41 304.22L109.01 309.82M103.41 309.82L109.01 304.22M106.21 304.22V309.82M103.41 307.02H109.01M115.27 304.22L120.87 309.82M115.27 309.82L120.87 304.22M118.07 304.22V309.82M115.27 307.02H120.87M127.13 304.22L132.73 309.82M127.13 309.82L132.73 304.22M129.93 304.22V309.82M127.13 307.02H132.73M138.98 306.66L144.58 312.26M138.98 312.26L144.58 306.66M141.78 306.66V312.26M138.98 309.46H144.58M150.84 301.43L156.44 307.03M150.84 307.03L156.44 301.43M153.64 301.43V307.03M150.84 304.23H156.44M162.7 269.69L168.3 275.29M162.7 275.29L168.3 269.69M165.5 269.69V275.29M162.7 272.49H168.3M174.56 269.69L180.16 275.29M174.56 275.29L180.16 269.69M177.36 269.69V275.29M174.56 272.49H180.16M186.42 274.92L192.02 280.52M186.42 280.52L192.02 274.92M189.22 274.92V280.52M186.42 277.72H192.02M198.27 285.73L203.88 291.33M198.27 291.33L203.88 285.73M201.07 285.73V291.33M198.27 288.53H203.88M210.13 269.69L215.73 275.29M210.13 275.29L215.73 269.69M212.93 269.69V275.29M210.13 272.49H215.73M221.99 274.92L227.59 280.52M221.99 280.52L227.59 274.92M224.79 274.92V280.52M221.99 277.72H227.59M233.85 264.46L239.45 270.06M233.85 270.06L239.45 264.46M236.65 264.46V270.06M233.85 267.26H239.45M245.71 248.42L251.31 254.02M245.71 254.02L251.31 248.42M248.51 248.42V254.02M245.71 251.22H251.31M257.57 301.43L263.17 307.03M257.57 307.03L263.17 301.43M260.37 301.43V307.03M257.57 304.23H263.17M269.43 306.66L275.03 312.26M269.43 312.26L275.03 306.66M272.23 306.66V312.26M269.43 309.46H275.03M281.28 308.75L286.88 314.35M281.28 314.35L286.88 308.75M284.08 308.75V314.35M281.28 311.55H286.88M293.14 308.75L298.74 314.35M293.14 314.35L298.74 308.75M295.94 308.75V314.35M293.14 311.55H298.74M305 312.59L310.6 318.19M305 318.19L310.6 312.59M307.8 312.59V318.19M305 315.39H310.6" stroke="#0000ff" stroke-width="1.2"/><polyline points="23.2,315.39 35.06,315.39 46.92,315.39 58.78,315.39 82.49,310.16 94.35,312.6 106.21,312.6 118.07,312.6 129.93,312.6 141.78,312.6 153.64,315.39 165.5,312.6 177.36,304.23 189.22,293.77 201.07,301.79 212.93,315.39 224.79,315.39 236.65,315.39 248.51,315.39 260.37,315.39 272.23,315.39 284.08,315.39 295.94,315.39 307.8,313.99" stroke="#ff0000" stroke-width="1.5"/><path d="M20.4 312.59L26 318.19M20.4 318.19L26 312.59M23.2 312.59V318.19M20.4 315.39H26M32.26 312.59L37.86 318.19M32.26 318.19L37.86 312.59M35.06 312.59V318.19M32.26 315.39H37.86M44.12 312.59L49.72 318.19M44.12 318.19L49.72 312.59M46.92 312.59V318.19M44.12 315.39H49.72M55.98 312.59L61.58 318.19M55.98 318.19L61.58 312.59M58.78 312.59V318.19M55.98 315.39H61.58M79.69 307.36L85.29 312.96M79.69 312.96L85.29 307.36M82.49 307.36V312.96M79.69 310.16H85.29M91.55 309.8L97.15 315.4M91.55 315.4L97.15 309.8M94.35 309.8V315.4M91.55 312.6H97.15M103.41 309.8L109.01 315.4M103.41 315.4L109.01 309.8M106.21 309.8V315.4M103.41 312.6H109.01M115.27 309.8L120.87 315.4M115.27 315.4L120.87 309.8M118.07 309.8V315.4M115.27 312.6H120.87M127.13 309.8L132.73 315.4M127.13 315.4L132.73 309.8M129.93 309.8V315.4M127.13 312.6H132.73M138.98 309.8L144.58 315.4M138.98 315.4L144.58 309.8M141.78 309.8V315.4M138.98 312.6H144.58M150.84 312.59L156.44 318.19M150.84 318.19L156.44 312.59M153.64 312.59V318.19M150.84 315.39H156.44M162.7 309.8L168.3 315.4M162.7 315.4L168.3 309.8M165.5 309.8V315.4M162.7 312.6H168.3M174.56 301.43L180.16 307.03M174.56 307.03L180.16 301.43M177.36 301.43V307.03M174.56 304.23H180.16M186.42 290.97L192.02 296.57M186.42 296.57L192.02 290.97M189.22 290.97V296.57M186.42 293.77H192.02M198.27 298.99L203.88 304.59M198.27 304.59L203.88 298.99M201.07 298.99V304.59M198.27 301.79H203.88M210.13 312.59L215.73 318.19M210.13 318.19L215.73 312.59M212.93 312.59V318.19M210.13 315.39H215.73M221.99 312.59L227.59 318.19M221.99 318.19L227.59 312.59M224.79 312.59V318.19M221.99 315.39H227.59M233.85 312.59L239.45 318.19M233.85 318.19L239.45 312.59M236.65 312.59V318.19M233.85 315.39H239.45M245.71 312.59L251.31 318.19M245.71 318.19L251.31 312.59M248.51 312.59V318.19M245.71 315.39H251.31M257.57 312.59L263.17 318.19M257.57 318.19L263.17 312.59M260.37 312.59V318.19M257.57 315.39H263.17M269.43 312.59L275.03 318.19M269.43 318.19L275.03 312.59M272.23 312.59V318.19M269.43 315.39H275.03M281.28 312.59L286.88 318.19M281.28 318.19L286.88 312.59M284.08 312.59V318.19M281.28 315.39H286.88M293.14 312.59L298.74 318.19M293.14 318.19L298.74 312.59M295.94 312.59V318.19M293.14 315.39H298.74M305 311.19L310.6 316.79M305 316.79L310.6 311.19M307.8 311.19V316.79M305 313.99H310.6" stroke="#ff0000" stroke-width="1.2"/></g><path d="M23.2 311.9H307.8M23.2 297.95H307.8M23.2 284H307.8M23.2 270.05H307.8M23.2 256.1H307.8M70.63 242.15V325.85M118.07 242.15V325.85M165.5 242.15V325.85M212.93 242.15V325.85M260.37 242.15V325.85" stroke="#000" stroke-width="1" stroke-dasharray="1 2" fill="none"/><path d="M23.2 325.85h6M307.8 325.85h-6M23.2 318.88h3.5M307.8 318.88h-3.5M23.2 311.9h6M307.8 311.9h-6M23.2 304.93h3.5M307.8 304.93h-3.5M23.2 297.95h6M307.8 297.95h-6M23.2 290.98h3.5M307.8 290.98h-3.5M23.2 284h6M307.8 284h-6M23.2 277.03h3.5M307.8 277.03h-3.5M23.2 270.05h6M307.8 270.05h-6M23.2 263.08h3.5M307.8 263.08h-3.5M23.2 256.1h6M307.8 256.1h-6M23.2 249.13h3.5M307.8 249.13h-3.5M23.2 242.15h6M307.8 242.15h-6M23.2 325.85v-6M23.2 242.15v6M46.92 325.85v-3.5M46.92 242.15v3.5M70.63 325.85v-6M70.63 242.15v6M94.35 325.85v-3.5M94.35 242.15v3.5M118.07 325.85v-6M118.07 242.15v6M141.78 325.85v-3.5M141.78 242.15v3.5M165.5 325.85v-6M165.5 242.15v6M189.22 325.85v-3.5M189.22 242.15v3.5M212.93 325.85v-6M212.93 242.15v6M236.65 325.85v-3.5M236.65 242.15v3.5M260.37 325.85v-6M260.37 242.15v6M284.08 325.85v-3.5M284.08 242.15v3.5M307.8 325.85v-6M307.8 242.15v6" stroke="#000" stroke-width="1.1" fill="none"/><rect x="23.2" y="242.15" width="284.6" height="83.7" fill="none" stroke="#000" stroke-width="1.9"/><g font-family="'Liberation Serif', 'DejaVu Serif', serif" font-weight="bold" font-size="9.2" fill="#000"><text transform="translate(18.2,328.95) scale(1.12,1)" text-anchor="end">0</text><text transform="translate(18.2,315) scale(1.12,1)" text-anchor="end">2</text><text transform="translate(18.2,301.05) scale(1.12,1)" text-anchor="end">4</text><text transform="translate(18.2,287.1) scale(1.12,1)" text-anchor="end">6</text><text transform="translate(18.2,273.15) scale(1.12,1)" text-anchor="end">8</text><text transform="translate(18.2,259.2) scale(1.12,1)" text-anchor="end">10</text><text transform="translate(18.2,245.25) scale(1.12,1)" text-anchor="end">12</text><text transform="translate(23.2,337.05) scale(1.12,1)" text-anchor="middle">0</text><text transform="translate(70.63,337.05) scale(1.12,1)" text-anchor="middle">4</text><text transform="translate(118.07,337.05) scale(1.12,1)" text-anchor="middle">8</text><text transform="translate(165.5,337.05) scale(1.12,1)" text-anchor="middle">12</text><text transform="translate(212.93,337.05) scale(1.12,1)" text-anchor="middle">16</text><text transform="translate(260.37,337.05) scale(1.12,1)" text-anchor="middle">20</text><text transform="translate(307.8,337.05) scale(1.12,1)" text-anchor="middle">24</text></g><text x="309.1" y="239.05" text-anchor="end" font-family="'Liberation Serif', 'DejaVu Serif', serif" font-weight="bold" font-size="9.2" textLength="42" lengthAdjust="spacingAndGlyphs" fill="#000">SO2 (ppb)</text>
<g clip-path="url(#c6)" fill="none" stroke-linejoin="round"><polyline points="348.2,324.01 360.06,324.01 371.92,324.01 383.77,319.82 395.63,312.12 407.49,310.62 419.35,313.63 431.21,316.31 443.07,315.3 454.93,317.98 466.78,316.64 478.64,309.44 490.5,305.43 502.36,303.59 514.22,311.12 526.08,314.63 537.93,313.13 549.79,322.5 561.65,322 573.51,322 585.37,321.5 597.23,317.31 609.08,315.97 620.94,313.13 632.8,315.97" stroke="#00ffff" stroke-width="1.5"/><path d="M345.4 321.21L351 326.81M345.4 326.81L351 321.21M348.2 321.21V326.81M345.4 324.01H351M357.26 321.21L362.86 326.81M357.26 326.81L362.86 321.21M360.06 321.21V326.81M357.26 324.01H362.86M369.12 321.21L374.72 326.81M369.12 326.81L374.72 321.21M371.92 321.21V326.81M369.12 324.01H374.72M380.97 317.02L386.57 322.62M380.97 322.62L386.57 317.02M383.77 317.02V322.62M380.97 319.82H386.57M392.83 309.32L398.43 314.92M392.83 314.92L398.43 309.32M395.63 309.32V314.92M392.83 312.12H398.43M404.69 307.82L410.29 313.42M404.69 313.42L410.29 307.82M407.49 307.82V313.42M404.69 310.62H410.29M416.55 310.83L422.15 316.43M416.55 316.43L422.15 310.83M419.35 310.83V316.43M416.55 313.63H422.15M428.41 313.51L434.01 319.11M428.41 319.11L434.01 313.51M431.21 313.51V319.11M428.41 316.31H434.01M440.27 312.5L445.87 318.1M440.27 318.1L445.87 312.5M443.07 312.5V318.1M440.27 315.3H445.87M452.12 315.18L457.73 320.78M452.12 320.78L457.73 315.18M454.93 315.18V320.78M452.12 317.98H457.73M463.98 313.84L469.58 319.44M463.98 319.44L469.58 313.84M466.78 313.84V319.44M463.98 316.64H469.58M475.84 306.64L481.44 312.24M475.84 312.24L481.44 306.64M478.64 306.64V312.24M475.84 309.44H481.44M487.7 302.63L493.3 308.23M487.7 308.23L493.3 302.63M490.5 302.63V308.23M487.7 305.43H493.3M499.56 300.79L505.16 306.39M499.56 306.39L505.16 300.79M502.36 300.79V306.39M499.56 303.59H505.16M511.42 308.32L517.02 313.92M511.42 313.92L517.02 308.32M514.22 308.32V313.92M511.42 311.12H517.02M523.28 311.83L528.88 317.43M523.28 317.43L528.88 311.83M526.08 311.83V317.43M523.28 314.63H528.88M535.13 310.33L540.73 315.93M535.13 315.93L540.73 310.33M537.93 310.33V315.93M535.13 313.13H540.73M546.99 319.7L552.59 325.3M546.99 325.3L552.59 319.7M549.79 319.7V325.3M546.99 322.5H552.59M558.85 319.2L564.45 324.8M558.85 324.8L564.45 319.2M561.65 319.2V324.8M558.85 322H564.45M570.71 319.2L576.31 324.8M570.71 324.8L576.31 319.2M573.51 319.2V324.8M570.71 322H576.31M582.57 318.7L588.17 324.3M582.57 324.3L588.17 318.7M585.37 318.7V324.3M582.57 321.5H588.17M594.43 314.51L600.02 320.11M594.43 320.11L600.02 314.51M597.23 314.51V320.11M594.43 317.31H600.02M606.28 313.17L611.88 318.77M606.28 318.77L611.88 313.17M609.08 313.17V318.77M606.28 315.97H611.88M618.14 310.33L623.74 315.93M618.14 315.93L623.74 310.33M620.94 310.33V315.93M618.14 313.13H623.74M630 313.17L635.6 318.77M630 318.77L635.6 313.17M632.8 313.17V318.77M630 315.97H635.6" stroke="#00ffff" stroke-width="1.2"/><polyline points="348.2,315.3 360.06,315.64 371.92,309.44 383.77,305.09 419.35,303.59 431.21,309.11 443.07,315.47 454.93,317.98 490.5,304.42 502.36,292.04 514.22,286.51 526.08,313.8 537.93,319.32 549.79,292.7 561.65,286.85 573.51,299.4 585.37,305.09 597.23,307.1 609.08,309.11 620.94,300.91 632.8,300.91" stroke="#00ff00" stroke-width="1.5"/><path d="M345.4 312.5L351 318.1M345.4 318.1L351 312.5M348.2 312.5V318.1M345.4 315.3H351M357.26 312.84L362.86 318.44M357.26 318.44L362.86 312.84M360.06 312.84V318.44M357.26 315.64H362.86M369.12 306.64L374.72 312.24M369.12 312.24L374.72 306.64M371.92 306.64V312.24M369.12 309.44H374.72M380.97 302.29L386.57 307.89M380.97 307.89L386.57 302.29M383.77 302.29V307.89M380.97 305.09H386.57M416.55 300.79L422.15 306.39M416.55 306.39L422.15 300.79M419.35 300.79V306.39M416.55 303.59H422.15M428.41 306.31L434.01 311.91M428.41 311.91L434.01 306.31M431.21 306.31V311.91M428.41 309.11H434.01M440.27 312.67L445.87 318.27M440.27 318.27L445.87 312.67M443.07 312.67V318.27M440.27 315.47H445.87M452.12 315.18L457.73 320.78M452.12 320.78L457.73 315.18M454.93 315.18V320.78M452.12 317.98H457.73M487.7 301.62L493.3 307.22M487.7 307.22L493.3 301.62M490.5 301.62V307.22M487.7 304.42H493.3M499.56 289.24L505.16 294.84M499.56 294.84L505.16 289.24M502.36 289.24V294.84M499.56 292.04H505.16M511.42 283.71L517.02 289.31M511.42 289.31L517.02 283.71M514.22 283.71V289.31M511.42 286.51H517.02M523.28 311L528.88 316.6M523.28 316.6L528.88 311M526.08 311V316.6M523.28 313.8H528.88M535.13 316.52L540.73 322.12M535.13 322.12L540.73 316.52M537.93 316.52V322.12M535.13 319.32H540.73M546.99 289.9L552.59 295.5M546.99 295.5L552.59 289.9M549.79 289.9V295.5M546.99 292.7H552.59M558.85 284.05L564.45 289.65M558.85 289.65L564.45 284.05M561.65 284.05V289.65M558.85 286.85H564.45M570.71 296.6L576.31 302.2M570.71 302.2L576.31 296.6M573.51 296.6V302.2M570.71 299.4H576.31M582.57 302.29L588.17 307.89M582.57 307.89L588.17 302.29M585.37 302.29V307.89M582.57 305.09H588.17M594.43 304.3L600.02 309.9M594.43 309.9L600.02 304.3M597.23 304.3V309.9M594.43 307.1H600.02M606.28 306.31L611.88 311.91M606.28 311.91L611.88 306.31M609.08 306.31V311.91M606.28 309.11H611.88M618.14 298.11L623.74 303.71M618.14 303.71L623.74 298.11M620.94 298.11V303.71M618.14 300.91H623.74M630 298.11L635.6 303.71M630 303.71L635.6 298.11M632.8 298.11V303.71M630 300.91H635.6" stroke="#00ff00" stroke-width="1.2"/><polyline points="348.2,300.91 360.06,278.98 371.92,271.78 383.77,265.42 395.63,256.71 407.49,259.73 419.35,267.93 431.21,277.3 443.07,278.98 454.93,278.98 466.78,280.32 478.64,296.72 490.5,302.92 502.36,296.72 514.22,299.4 526.08,287.52 537.93,301.58 549.79,308.11 561.65,319.32 573.51,320.83 585.37,270.11 597.23,289.52 609.08,302.92 620.94,310.11 632.8,307.6" stroke="#0000ff" stroke-width="1.5"/><path d="M345.4 298.11L351 303.71M345.4 303.71L351 298.11M348.2 298.11V303.71M345.4 300.91H351M357.26 276.18L362.86 281.78M357.26 281.78L362.86 276.18M360.06 276.18V281.78M357.26 278.98H362.86M369.12 268.98L374.72 274.58M369.12 274.58L374.72 268.98M371.92 268.98V274.58M369.12 271.78H374.72M380.97 262.62L386.57 268.22M380.97 268.22L386.57 262.62M383.77 262.62V268.22M380.97 265.42H386.57M392.83 253.91L398.43 259.51M392.83 259.51L398.43 253.91M395.63 253.91V259.51M392.83 256.71H398.43M404.69 256.93L410.29 262.53M404.69 262.53L410.29 256.93M407.49 256.93V262.53M404.69 259.73H410.29M416.55 265.13L422.15 270.73M416.55 270.73L422.15 265.13M419.35 265.13V270.73M416.55 267.93H422.15M428.41 274.5L434.01 280.1M428.41 280.1L434.01 274.5M431.21 274.5V280.1M428.41 277.3H434.01M440.27 276.18L445.87 281.78M440.27 281.78L445.87 276.18M443.07 276.18V281.78M440.27 278.98H445.87M452.12 276.18L457.73 281.78M452.12 281.78L457.73 276.18M454.93 276.18V281.78M452.12 278.98H457.73M463.98 277.52L469.58 283.12M463.98 283.12L469.58 277.52M466.78 277.52V283.12M463.98 280.32H469.58M475.84 293.92L481.44 299.52M475.84 299.52L481.44 293.92M478.64 293.92V299.52M475.84 296.72H481.44M487.7 300.12L493.3 305.72M487.7 305.72L493.3 300.12M490.5 300.12V305.72M487.7 302.92H493.3M499.56 293.92L505.16 299.52M499.56 299.52L505.16 293.92M502.36 293.92V299.52M499.56 296.72H505.16M511.42 296.6L517.02 302.2M511.42 302.2L517.02 296.6M514.22 296.6V302.2M511.42 299.4H517.02M523.28 284.72L528.88 290.32M523.28 290.32L528.88 284.72M526.08 284.72V290.32M523.28 287.52H528.88M535.13 298.78L540.73 304.38M535.13 304.38L540.73 298.78M537.93 298.78V304.38M535.13 301.58H540.73M546.99 305.31L552.59 310.91M546.99 310.91L552.59 305.31M549.79 305.31V310.91M546.99 308.11H552.59M558.85 316.52L564.45 322.12M558.85 322.12L564.45 316.52M561.65 316.52V322.12M558.85 319.32H564.45M570.71 318.03L576.31 323.63M570.71 323.63L576.31 318.03M573.51 318.03V323.63M570.71 320.83H576.31M582.57 267.31L588.17 272.91M582.57 272.91L588.17 267.31M585.37 267.31V272.91M582.57 270.11H588.17M594.43 286.72L600.02 292.32M594.43 292.32L600.02 286.72M597.23 286.72V292.32M594.43 289.52H600.02M606.28 300.12L611.88 305.72M606.28 305.72L611.88 300.12M609.08 300.12V305.72M606.28 302.92H611.88M618.14 307.31L623.74 312.91M618.14 312.91L623.74 307.31M620.94 307.31V312.91M618.14 310.11H623.74M630 304.8L635.6 310.4M630 310.4L635.6 304.8M632.8 304.8V310.4M630 307.6H635.6" stroke="#0000ff" stroke-width="1.2"/><polyline points="348.2,307.44 360.06,299.4 371.92,286.18 383.77,278.98 407.49,296.39 419.35,292.2 431.21,305.93 443.07,311.79 454.93,305.09 466.78,295.38 478.64,289.02 490.5,295.38 502.36,288.52 514.22,295.38 526.08,287.18 537.93,273.79 549.79,280.65 561.65,294.04 573.51,291.03 585.37,299.4 597.23,297.22 609.08,297.22 620.94,287.52 632.8,286.85" stroke="#ff0000" stroke-width="1.5"/><path d="M345.4 304.64L351 310.24M345.4 310.24L351 304.64M348.2 304.64V310.24M345.4 307.44H351M357.26 296.6L362.86 302.2M357.26 302.2L362.86 296.6M360.06 296.6V302.2M357.26 299.4H362.86M369.12 283.38L374.72 288.98M369.12 288.98L374.72 283.38M371.92 283.38V288.98M369.12 286.18H374.72M380.97 276.18L386.57 281.78M380.97 281.78L386.57 276.18M383.77 276.18V281.78M380.97 278.98H386.57M404.69 293.59L410.29 299.19M404.69 299.19L410.29 293.59M407.49 293.59V299.19M404.69 296.39H410.29M416.55 289.4L422.15 295M416.55 295L422.15 289.4M419.35 289.4V295M416.55 292.2H422.15M428.41 303.13L434.01 308.73M428.41 308.73L434.01 303.13M431.21 303.13V308.73M428.41 305.93H434.01M440.27 308.99L445.87 314.59M440.27 314.59L445.87 308.99M443.07 308.99V314.59M440.27 311.79H445.87M452.12 302.29L457.73 307.89M452.12 307.89L457.73 302.29M454.93 302.29V307.89M452.12 305.09H457.73M463.98 292.58L469.58 298.18M463.98 298.18L469.58 292.58M466.78 292.58V298.18M463.98 295.38H469.58M475.84 286.22L481.44 291.82M475.84 291.82L481.44 286.22M478.64 286.22V291.82M475.84 289.02H481.44M487.7 292.58L493.3 298.18M487.7 298.18L493.3 292.58M490.5 292.58V298.18M487.7 295.38H493.3M499.56 285.72L505.16 291.32M499.56 291.32L505.16 285.72M502.36 285.72V291.32M499.56 288.52H505.16M511.42 292.58L517.02 298.18M511.42 298.18L517.02 292.58M514.22 292.58V298.18M511.42 295.38H517.02M523.28 284.38L528.88 289.98M523.28 289.98L528.88 284.38M526.08 284.38V289.98M523.28 287.18H528.88M535.13 270.99L540.73 276.59M535.13 276.59L540.73 270.99M537.93 270.99V276.59M535.13 273.79H540.73M546.99 277.85L552.59 283.45M546.99 283.45L552.59 277.85M549.79 277.85V283.45M546.99 280.65H552.59M558.85 291.24L564.45 296.84M558.85 296.84L564.45 291.24M561.65 291.24V296.84M558.85 294.04H564.45M570.71 288.23L576.31 293.83M570.71 293.83L576.31 288.23M573.51 288.23V293.83M570.71 291.03H576.31M582.57 296.6L588.17 302.2M582.57 302.2L588.17 296.6M585.37 296.6V302.2M582.57 299.4H588.17M594.43 294.42L600.02 300.02M594.43 300.02L600.02 294.42M597.23 294.42V300.02M594.43 297.22H600.02M606.28 294.42L611.88 300.02M606.28 300.02L611.88 294.42M609.08 294.42V300.02M606.28 297.22H611.88M618.14 284.72L623.74 290.32M618.14 290.32L623.74 284.72M620.94 284.72V290.32M618.14 287.52H623.74M630 284.05L635.6 289.65M630 289.65L635.6 284.05M632.8 284.05V289.65M630 286.85H635.6" stroke="#ff0000" stroke-width="1.2"/></g><path d="M348.2 309.11H632.8M348.2 292.37H632.8M348.2 275.63H632.8M348.2 258.89H632.8M395.63 242.15V325.85M443.07 242.15V325.85M490.5 242.15V325.85M537.93 242.15V325.85M585.37 242.15V325.85" stroke="#000" stroke-width="1" stroke-dasharray="1 2" fill="none"/><path d="M348.2 325.85h6M632.8 325.85h-6M348.2 317.48h3.5M632.8 317.48h-3.5M348.2 309.11h6M632.8 309.11h-6M348.2 300.74h3.5M632.8 300.74h-3.5M348.2 292.37h6M632.8 292.37h-6M348.2 284h3.5M632.8 284h-3.5M348.2 275.63h6M632.8 275.63h-6M348.2 267.26h3.5M632.8 267.26h-3.5M348.2 258.89h6M632.8 258.89h-6M348.2 250.52h3.5M632.8 250.52h-3.5M348.2 242.15h6M632.8 242.15h-6M348.2 325.85v-6M348.2 242.15v6M371.92 325.85v-3.5M371.92 242.15v3.5M395.63 325.85v-6M395.63 242.15v6M419.35 325.85v-3.5M419.35 242.15v3.5M443.07 325.85v-6M443.07 242.15v6M466.78 325.85v-3.5M466.78 242.15v3.5M490.5 325.85v-6M490.5 242.15v6M514.22 325.85v-3.5M514.22 242.15v3.5M537.93 325.85v-6M537.93 242.15v6M561.65 325.85v-3.5M561.65 242.15v3.5M585.37 325.85v-6M585.37 242.15v6M609.08 325.85v-3.5M609.08 242.15v3.5M632.8 325.85v-6M632.8 242.15v6" stroke="#000" stroke-width="1.1" fill="none"/><rect x="348.2" y="242.15" width="284.6" height="83.7" fill="none" stroke="#000" stroke-width="1.9"/><g font-family="'Liberation Serif', 'DejaVu Serif', serif" font-weight="bold" font-size="9.2" fill="#000"><text transform="translate(343.2,328.95) scale(1.12,1)" text-anchor="end">0</text><text transform="translate(343.2,312.21) scale(1.12,1)" text-anchor="end">10</text><text transform="translate(343.2,295.47) scale(1.12,1)" text-anchor="end">20</text><text transform="translate(343.2,278.73) scale(1.12,1)" text-anchor="end">30</text><text transform="translate(343.2,261.99) scale(1.12,1)" text-anchor="end">40</text><text transform="translate(343.2,245.25) scale(1.12,1)" text-anchor="end">50</text><text transform="translate(348.2,337.05) scale(1.12,1)" text-anchor="middle">0</text><text transform="translate(395.63,337.05) scale(1.12,1)" text-anchor="middle">4</text><text transform="translate(443.07,337.05) scale(1.12,1)" text-anchor="middle">8</text><text transform="translate(490.5,337.05) scale(1.12,1)" text-anchor="middle">12</text><text transform="translate(537.93,337.05) scale(1.12,1)" text-anchor="middle">16</text><text transform="translate(585.37,337.05) scale(1.12,1)" text-anchor="middle">20</text><text transform="translate(632.8,337.05) scale(1.12,1)" text-anchor="middle">24</text></g><text x="634.1" y="239.05" text-anchor="end" font-family="'Liberation Serif', 'DejaVu Serif', serif" font-weight="bold" font-size="9.2" textLength="36.6" lengthAdjust="spacingAndGlyphs" fill="#000">O3 (ppb)</text>
<g clip-path="url(#c7)" fill="none" stroke-linejoin="round"><polyline points="673.2,242.15 685.06,256.71 696.92,271.11 708.78,291.7 720.63,303.59 732.49,301.58 744.35,303.59 756.21,295.72 768.07,289.52 779.93,285.84 791.78,281.32 803.64,289.69 815.5,294.38 827.36,294.38 839.22,282.66 851.08,284.67 862.93,293.21 874.79,268.6 886.65,268.6 898.51,263.91 910.37,268.6 922.23,271.45 934.08,280.32 945.94,289.52 957.8,294.04" stroke="#00ffff" stroke-width="1.5"/><path d="M670.4 239.35L676 244.95M670.4 244.95L676 239.35M673.2 239.35V244.95M670.4 242.15H676M682.26 253.91L687.86 259.51M682.26 259.51L687.86 253.91M685.06 253.91V259.51M682.26 256.71H687.86M694.12 268.31L699.72 273.91M694.12 273.91L699.72 268.31M696.92 268.31V273.91M694.12 271.11H699.72M705.98 288.9L711.58 294.5M705.98 294.5L711.58 288.9M708.78 288.9V294.5M705.98 291.7H711.58M717.83 300.79L723.43 306.39M717.83 306.39L723.43 300.79M720.63 300.79V306.39M717.83 303.59H723.43M729.69 298.78L735.29 304.38M729.69 304.38L735.29 298.78M732.49 298.78V304.38M729.69 301.58H735.29M741.55 300.79L747.15 306.39M741.55 306.39L747.15 300.79M744.35 300.79V306.39M741.55 303.59H747.15M753.41 292.92L759.01 298.52M753.41 298.52L759.01 292.92M756.21 292.92V298.52M753.41 295.72H759.01M765.27 286.72L770.87 292.32M765.27 292.32L770.87 286.72M768.07 286.72V292.32M765.27 289.52H770.87M777.13 283.04L782.73 288.64M777.13 288.64L782.73 283.04M779.93 283.04V288.64M777.13 285.84H782.73M788.98 278.52L794.58 284.12M788.98 284.12L794.58 278.52M791.78 278.52V284.12M788.98 281.32H794.58M800.84 286.89L806.44 292.49M800.84 292.49L806.44 286.89M803.64 286.89V292.49M800.84 289.69H806.44M812.7 291.58L818.3 297.18M812.7 297.18L818.3 291.58M815.5 291.58V297.18M812.7 294.38H818.3M824.56 291.58L830.16 297.18M824.56 297.18L830.16 291.58M827.36 291.58V297.18M824.56 294.38H830.16M836.42 279.86L842.02 285.46M836.42 285.46L842.02 279.86M839.22 279.86V285.46M836.42 282.66H842.02M848.28 281.87L853.88 287.47M848.28 287.47L853.88 281.87M851.08 281.87V287.47M848.28 284.67H853.88M860.13 290.41L865.73 296.01M860.13 296.01L865.73 290.41M862.93 290.41V296.01M860.13 293.21H865.73M871.99 265.8L877.59 271.4M871.99 271.4L877.59 265.8M874.79 265.8V271.4M871.99 268.6H877.59M883.85 265.8L889.45 271.4M883.85 271.4L889.45 265.8M886.65 265.8V271.4M883.85 268.6H889.45M895.71 261.11L901.31 266.71M895.71 266.71L901.31 261.11M898.51 261.11V266.71M895.71 263.91H901.31M907.57 265.8L913.17 271.4M907.57 271.4L913.17 265.8M910.37 265.8V271.4M907.57 268.6H913.17M919.43 268.65L925.02 274.25M919.43 274.25L925.02 268.65M922.23 268.65V274.25M919.43 271.45H925.02M931.28 277.52L936.88 283.12M931.28 283.12L936.88 277.52M934.08 277.52V283.12M931.28 280.32H936.88M943.14 286.72L948.74 292.32M943.14 292.32L948.74 286.72M945.94 286.72V292.32M943.14 289.52H948.74M955 291.24L960.6 296.84M955 296.84L960.6 291.24M957.8 291.24V296.84M955 294.04H960.6" stroke="#00ffff" stroke-width="1.2"/><polyline points="673.2,294.71 685.06,298.9 696.92,306.1 708.78,311.79 744.35,316.31 756.21,303.59 768.07,294.38 815.5,301.91 827.36,297.73 839.22,297.73 851.08,296.39 862.93,285.67 874.79,292.04 886.65,288.52 898.51,278.31 910.37,285.51 922.23,272.11 934.08,279.31 945.94,288.52 957.8,286.51" stroke="#00ff00" stroke-width="1.5"/><path d="M670.4 291.91L676 297.51M670.4 297.51L676 291.91M673.2 291.91V297.51M670.4 294.71H676M682.26 296.1L687.86 301.7M682.26 301.7L687.86 296.1M685.06 296.1V301.7M682.26 298.9H687.86M694.12 303.3L699.72 308.9M694.12 308.9L699.72 303.3M696.92 303.3V308.9M694.12 306.1H699.72M705.98 308.99L711.58 314.59M705.98 314.59L711.58 308.99M708.78 308.99V314.59M705.98 311.79H711.58M741.55 313.51L747.15 319.11M741.55 319.11L747.15 313.51M744.35 313.51V319.11M741.55 316.31H747.15M753.41 300.79L759.01 306.39M753.41 306.39L759.01 300.79M756.21 300.79V306.39M753.41 303.59H759.01M765.27 291.58L770.87 297.18M765.27 297.18L770.87 291.58M768.07 291.58V297.18M765.27 294.38H770.87M812.7 299.11L818.3 304.71M812.7 304.71L818.3 299.11M815.5 299.11V304.71M812.7 301.91H818.3M824.56 294.93L830.16 300.53M824.56 300.53L830.16 294.93M827.36 294.93V300.53M824.56 297.73H830.16M836.42 294.93L842.02 300.53M836.42 300.53L842.02 294.93M839.22 294.93V300.53M836.42 297.73H842.02M848.28 293.59L853.88 299.19M848.28 299.19L853.88 293.59M851.08 293.59V299.19M848.28 296.39H853.88M860.13 282.87L865.73 288.47M860.13 288.47L865.73 282.87M862.93 282.87V288.47M860.13 285.67H865.73M871.99 289.24L877.59 294.84M871.99 294.84L877.59 289.24M874.79 289.24V294.84M871.99 292.04H877.59M883.85 285.72L889.45 291.32M883.85 291.32L889.45 285.72M886.65 285.72V291.32M883.85 288.52H889.45M895.71 275.51L901.31 281.11M895.71 281.11L901.31 275.51M898.51 275.51V281.11M895.71 278.31H901.31M907.57 282.71L913.17 288.31M907.57 288.31L913.17 282.71M910.37 282.71V288.31M907.57 285.51H913.17M919.43 269.31L925.02 274.91M919.43 274.91L925.02 269.31M922.23 269.31V274.91M919.43 272.11H925.02M931.28 276.51L936.88 282.11M931.28 282.11L936.88 276.51M934.08 276.51V282.11M931.28 279.31H936.88M943.14 285.72L948.74 291.32M943.14 291.32L948.74 285.72M945.94 285.72V291.32M943.14 288.52H948.74M955 283.71L960.6 289.31M955 289.31L960.6 283.71M957.8 283.71V289.31M955 286.51H960.6" stroke="#00ff00" stroke-width="1.2"/><polyline points="673.2,285.84 685.06,298.9 696.92,301.91 708.78,304.59 720.63,309.11 732.49,302.92 744.35,297.73 756.21,299.23 768.07,297.73 779.93,297.73 791.78,296.39 803.64,296.39 815.5,292.04 827.36,292.04 839.22,290.03 851.08,296.56 862.93,287.35 874.79,288.52 886.65,277.3 898.51,283 910.37,283 922.23,285 934.08,290.19 945.94,284.5 957.8,299.4" stroke="#0000ff" stroke-width="1.5"/><path d="M670.4 283.04L676 288.64M670.4 288.64L676 283.04M673.2 283.04V288.64M670.4 285.84H676M682.26 296.1L687.86 301.7M682.26 301.7L687.86 296.1M685.06 296.1V301.7M682.26 298.9H687.86M694.12 299.11L699.72 304.71M694.12 304.71L699.72 299.11M696.92 299.11V304.71M694.12 301.91H699.72M705.98 301.79L711.58 307.39M705.98 307.39L711.58 301.79M708.78 301.79V307.39M705.98 304.59H711.58M717.83 306.31L723.43 311.91M717.83 311.91L723.43 306.31M720.63 306.31V311.91M717.83 309.11H723.43M729.69 300.12L735.29 305.72M729.69 305.72L735.29 300.12M732.49 300.12V305.72M729.69 302.92H735.29M741.55 294.93L747.15 300.53M741.55 300.53L747.15 294.93M744.35 294.93V300.53M741.55 297.73H747.15M753.41 296.43L759.01 302.03M753.41 302.03L759.01 296.43M756.21 296.43V302.03M753.41 299.23H759.01M765.27 294.93L770.87 300.53M765.27 300.53L770.87 294.93M768.07 294.93V300.53M765.27 297.73H770.87M777.13 294.93L782.73 300.53M777.13 300.53L782.73 294.93M779.93 294.93V300.53M777.13 297.73H782.73M788.98 293.59L794.58 299.19M788.98 299.19L794.58 293.59M791.78 293.59V299.19M788.98 296.39H794.58M800.84 293.59L806.44 299.19M800.84 299.19L806.44 293.59M803.64 293.59V299.19M800.84 296.39H806.44M812.7 289.24L818.3 294.84M812.7 294.84L818.3 289.24M815.5 289.24V294.84M812.7 292.04H818.3M824.56 289.24L830.16 294.84M824.56 294.84L830.16 289.24M827.36 289.24V294.84M824.56 292.04H830.16M836.42 287.23L842.02 292.83M836.42 292.83L842.02 287.23M839.22 287.23V292.83M836.42 290.03H842.02M848.28 293.75L853.88 299.36M848.28 299.36L853.88 293.75M851.08 293.75V299.36M848.28 296.56H853.88M860.13 284.55L865.73 290.15M860.13 290.15L865.73 284.55M862.93 284.55V290.15M860.13 287.35H865.73M871.99 285.72L877.59 291.32M871.99 291.32L877.59 285.72M874.79 285.72V291.32M871.99 288.52H877.59M883.85 274.5L889.45 280.1M883.85 280.1L889.45 274.5M886.65 274.5V280.1M883.85 277.3H889.45M895.71 280.2L901.31 285.8M895.71 285.8L901.31 280.2M898.51 280.2V285.8M895.71 283H901.31M907.57 280.2L913.17 285.8M907.57 285.8L913.17 280.2M910.37 280.2V285.8M907.57 283H913.17M919.43 282.2L925.02 287.8M919.43 287.8L925.02 282.2M922.23 282.2V287.8M919.43 285H925.02M931.28 287.39L936.88 292.99M931.28 292.99L936.88 287.39M934.08 287.39V292.99M931.28 290.19H936.88M943.14 281.7L948.74 287.3M943.14 287.3L948.74 281.7M945.94 281.7V287.3M943.14 284.5H948.74M955 296.6L960.6 302.2M955 302.2L960.6 296.6M957.8 296.6V302.2M955 299.4H960.6" stroke="#0000ff" stroke-width="1.2"/><polyline points="673.2,298.9 685.06,304.93 696.92,316.31 708.78,323.84 732.49,324.18 744.35,323.84 756.21,309.11 768.07,310.62 779.93,311.79 791.78,309.11 803.64,309.11 815.5,309.11 827.36,317.65 839.22,315.3 851.08,316.31 862.93,322.84 874.79,317.31 886.65,309.11 898.51,300.24 910.37,288.52 922.23,293.37 934.08,296.22 945.94,310.62 957.8,316.31" stroke="#ff0000" stroke-width="1.5"/><path d="M670.4 296.1L676 301.7M670.4 301.7L676 296.1M673.2 296.1V301.7M670.4 298.9H676M682.26 302.12L687.86 307.73M682.26 307.73L687.86 302.12M685.06 302.12V307.73M682.26 304.93H687.86M694.12 313.51L699.72 319.11M694.12 319.11L699.72 313.51M696.92 313.51V319.11M694.12 316.31H699.72M705.98 321.04L711.58 326.64M705.98 326.64L711.58 321.04M708.78 321.04V326.64M705.98 323.84H711.58M729.69 321.38L735.29 326.98M729.69 326.98L735.29 321.38M732.49 321.38V326.98M729.69 324.18H735.29M741.55 321.04L747.15 326.64M741.55 326.64L747.15 321.04M744.35 321.04V326.64M741.55 323.84H747.15M753.41 306.31L759.01 311.91M753.41 311.91L759.01 306.31M756.21 306.31V311.91M753.41 309.11H759.01M765.27 307.82L770.87 313.42M765.27 313.42L770.87 307.82M768.07 307.82V313.42M765.27 310.62H770.87M777.13 308.99L782.73 314.59M777.13 314.59L782.73 308.99M779.93 308.99V314.59M777.13 311.79H782.73M788.98 306.31L794.58 311.91M788.98 311.91L794.58 306.31M791.78 306.31V311.91M788.98 309.11H794.58M800.84 306.31L806.44 311.91M800.84 311.91L806.44 306.31M803.64 306.31V311.91M800.84 309.11H806.44M812.7 306.31L818.3 311.91M812.7 311.91L818.3 306.31M815.5 306.31V311.91M812.7 309.11H818.3M824.56 314.85L830.16 320.45M824.56 320.45L830.16 314.85M827.36 314.85V320.45M824.56 317.65H830.16M836.42 312.5L842.02 318.1M836.42 318.1L842.02 312.5M839.22 312.5V318.1M836.42 315.3H842.02M848.28 313.51L853.88 319.11M848.28 319.11L853.88 313.51M851.08 313.51V319.11M848.28 316.31H853.88M860.13 320.04L865.73 325.64M860.13 325.64L865.73 320.04M862.93 320.04V325.64M860.13 322.84H865.73M871.99 314.51L877.59 320.11M871.99 320.11L877.59 314.51M874.79 314.51V320.11M871.99 317.31H877.59M883.85 306.31L889.45 311.91M883.85 311.91L889.45 306.31M886.65 306.31V311.91M883.85 309.11H889.45M895.71 297.44L901.31 303.04M895.71 303.04L901.31 297.44M898.51 297.44V303.04M895.71 300.24H901.31M907.57 285.72L913.17 291.32M907.57 291.32L913.17 285.72M910.37 285.72V291.32M907.57 288.52H913.17M919.43 290.57L925.02 296.17M919.43 296.17L925.02 290.57M922.23 290.57V296.17M919.43 293.37H925.02M931.28 293.42L936.88 299.02M931.28 299.02L936.88 293.42M934.08 293.42V299.02M931.28 296.22H936.88M943.14 307.82L948.74 313.42M943.14 313.42L948.74 307.82M945.94 307.82V313.42M943.14 310.62H948.74M955 313.51L960.6 319.11M955 319.11L960.6 313.51M957.8 313.51V319.11M955 316.31H960.6" stroke="#ff0000" stroke-width="1.2"/></g><path d="M673.2 309.11H957.8M673.2 292.37H957.8M673.2 275.63H957.8M673.2 258.89H957.8M720.63 242.15V325.85M768.07 242.15V325.85M815.5 242.15V325.85M862.93 242.15V325.85M910.37 242.15V325.85" stroke="#000" stroke-width="1" stroke-dasharray="1 2" fill="none"/><path d="M673.2 325.85h6M957.8 325.85h-6M673.2 317.48h3.5M957.8 317.48h-3.5M673.2 309.11h6M957.8 309.11h-6M673.2 300.74h3.5M957.8 300.74h-3.5M673.2 292.37h6M957.8 292.37h-6M673.2 284h3.5M957.8 284h-3.5M673.2 275.63h6M957.8 275.63h-6M673.2 267.26h3.5M957.8 267.26h-3.5M673.2 258.89h6M957.8 258.89h-6M673.2 250.52h3.5M957.8 250.52h-3.5M673.2 242.15h6M957.8 242.15h-6M673.2 325.85v-6M673.2 242.15v6M696.92 325.85v-3.5M696.92 242.15v3.5M720.63 325.85v-6M720.63 242.15v6M744.35 325.85v-3.5M744.35 242.15v3.5M768.07 325.85v-6M768.07 242.15v6M791.78 325.85v-3.5M791.78 242.15v3.5M815.5 325.85v-6M815.5 242.15v6M839.22 325.85v-3.5M839.22 242.15v3.5M862.93 325.85v-6M862.93 242.15v6M886.65 325.85v-3.5M886.65 242.15v3.5M910.37 325.85v-6M910.37 242.15v6M934.08 325.85v-3.5M934.08 242.15v3.5M957.8 325.85v-6M957.8 242.15v6" stroke="#000" stroke-width="1.1" fill="none"/><rect x="673.2" y="242.15" width="284.6" height="83.7" fill="none" stroke="#000" stroke-width="1.9"/><g font-family="'Liberation Serif', 'DejaVu Serif', serif" font-weight="bold" font-size="9.2" fill="#000"><text transform="translate(668.2,328.95) scale(1.12,1)" text-anchor="end">0.7</text><text transform="translate(668.2,312.21) scale(1.12,1)" text-anchor="end">0.8</text><text transform="translate(668.2,295.47) scale(1.12,1)" text-anchor="end">0.9</text><text transform="translate(668.2,278.73) scale(1.12,1)" text-anchor="end">1.0</text><text transform="translate(668.2,261.99) scale(1.12,1)" text-anchor="end">1.1</text><text transform="translate(668.2,245.25) scale(1.12,1)" text-anchor="end">1.2</text><text transform="translate(673.2,337.05) scale(1.12,1)" text-anchor="middle">0</text><text transform="translate(720.63,337.05) scale(1.12,1)" text-anchor="middle">4</text><text transform="translate(768.07,337.05) scale(1.12,1)" text-anchor="middle">8</text><text transform="translate(815.5,337.05) scale(1.12,1)" text-anchor="middle">12</text><text transform="translate(862.93,337.05) scale(1.12,1)" text-anchor="middle">16</text><text transform="translate(910.37,337.05) scale(1.12,1)" text-anchor="middle">20</text><text transform="translate(957.8,337.05) scale(1.12,1)" text-anchor="middle">24</text></g><text x="959.1" y="239.05" text-anchor="end" font-family="'Liberation Serif', 'DejaVu Serif', serif" font-weight="bold" font-size="9.2" textLength="40.2" lengthAdjust="spacingAndGlyphs" fill="#000">CO (ppm)</text>
</g></svg></body></html>
